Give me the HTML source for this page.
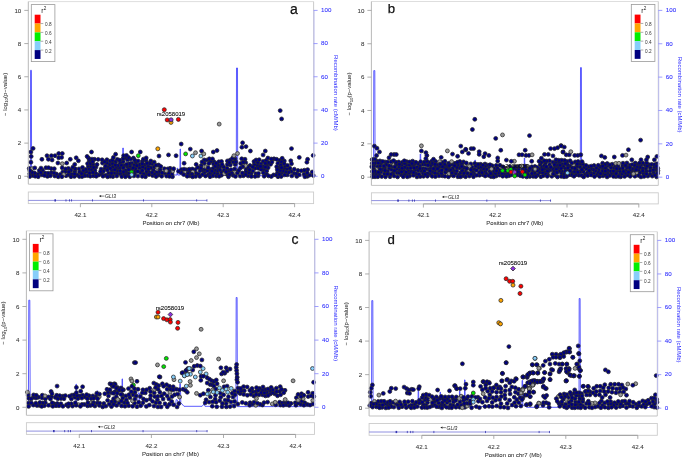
<!DOCTYPE html><html><head><meta charset="utf-8"><style>html,body{margin:0;padding:0;background:#fff;width:685px;height:460px;overflow:hidden}svg{display:block;filter:blur(0.3px)}text{font-family:"Liberation Sans", sans-serif} .t{font-size:6.2px;fill:#333;stroke:#333;stroke-width:0.06px} .tb{font-size:6.2px;fill:#3030ff;stroke:#3030ff;stroke-width:0.08px} .ts{font-size:4.7px;fill:#333} .L{font-size:14px;fill:#111;stroke:#111;stroke-width:0.25px}</style></head><body>
<svg width="685" height="460" viewBox="0 0 685 460">
<polyline points="28.8,176.0 30.4,176.0 30.6,70.3 31.4,70.3 31.6,175.0 60.0,175.5 122.5,175.0 122.8,148.0 123.3,148.0 123.6,175.0 139.3,175.0 139.5,163.0 139.9,163.0 140.1,175.0 177.0,175.0 177.2,168.0 177.5,168.0 177.7,175.0 179.9,175.0 180.1,149.0 180.5,149.0 180.7,175.0 236.3,175.0 236.5,68.0 237.5,68.0 237.7,175.5 313.3,176.0" fill="none" stroke="#4a4aff" stroke-width="0.9"/>
<g stroke="#2a2a2a" stroke-width="0.75">
<circle cx="84.1" cy="172.9" r="1.95" fill="#000080"/>
<circle cx="134.7" cy="173.6" r="1.95" fill="#000080"/>
<circle cx="255.3" cy="168.2" r="1.95" fill="#000080"/>
<circle cx="281.5" cy="173.1" r="1.95" fill="#000080"/>
<circle cx="133.5" cy="158.0" r="1.95" fill="#000080"/>
<circle cx="153.4" cy="170.2" r="1.95" fill="#000080"/>
<circle cx="115.7" cy="161.7" r="1.95" fill="#000080"/>
<circle cx="146.0" cy="160.4" r="1.95" fill="#000080"/>
<circle cx="241.7" cy="158.8" r="1.95" fill="#000080"/>
<circle cx="286.9" cy="169.1" r="1.95" fill="#000080"/>
<circle cx="51.3" cy="168.6" r="1.95" fill="#000080"/>
<circle cx="98.2" cy="159.4" r="1.95" fill="#000080"/>
<circle cx="307.4" cy="176.3" r="1.95" fill="#000080"/>
<circle cx="291.2" cy="171.5" r="1.95" fill="#000080"/>
<circle cx="42.5" cy="170.2" r="1.95" fill="#000080"/>
<circle cx="250.0" cy="165.5" r="1.95" fill="#000080"/>
<circle cx="204.3" cy="172.4" r="1.95" fill="#000080"/>
<circle cx="281.2" cy="176.5" r="1.95" fill="#000080"/>
<circle cx="112.8" cy="166.8" r="1.95" fill="#000080"/>
<circle cx="172.5" cy="176.7" r="1.95" fill="#000080"/>
<circle cx="227.1" cy="168.3" r="1.95" fill="#000080"/>
<circle cx="88.4" cy="166.4" r="1.95" fill="#000080"/>
<circle cx="279.0" cy="167.7" r="1.95" fill="#000080"/>
<circle cx="37.9" cy="174.1" r="1.95" fill="#000080"/>
<circle cx="105.6" cy="175.2" r="1.95" fill="#000080"/>
<circle cx="172.0" cy="174.1" r="1.95" fill="#000080"/>
<circle cx="154.1" cy="167.0" r="1.95" fill="#000080"/>
<circle cx="152.6" cy="175.6" r="1.95" fill="#000080"/>
<circle cx="251.1" cy="173.5" r="1.95" fill="#000080"/>
<circle cx="135.9" cy="162.6" r="1.95" fill="#000080"/>
<circle cx="279.6" cy="160.4" r="1.95" fill="#000080"/>
<circle cx="287.2" cy="174.9" r="1.95" fill="#000080"/>
<circle cx="117.4" cy="159.4" r="1.95" fill="#000080"/>
<circle cx="68.4" cy="168.4" r="1.95" fill="#000080"/>
<circle cx="255.9" cy="173.7" r="1.95" fill="#000080"/>
<circle cx="139.6" cy="167.9" r="1.95" fill="#000080"/>
<circle cx="233.0" cy="175.3" r="1.95" fill="#000080"/>
<circle cx="240.2" cy="176.1" r="1.95" fill="#000080"/>
<circle cx="273.6" cy="174.9" r="1.95" fill="#000080"/>
<circle cx="109.7" cy="164.4" r="1.95" fill="#000080"/>
<circle cx="257.6" cy="165.5" r="1.95" fill="#000080"/>
<circle cx="296.8" cy="176.4" r="1.95" fill="#000080"/>
<circle cx="89.3" cy="160.8" r="1.95" fill="#000080"/>
<circle cx="89.2" cy="169.3" r="1.95" fill="#000080"/>
<circle cx="246.1" cy="169.4" r="1.95" fill="#000080"/>
<circle cx="150.8" cy="167.8" r="1.95" fill="#000080"/>
<circle cx="288.6" cy="172.3" r="1.95" fill="#000080"/>
<circle cx="158.5" cy="175.1" r="1.95" fill="#000080"/>
<circle cx="266.5" cy="174.2" r="1.95" fill="#000080"/>
<circle cx="214.0" cy="161.7" r="1.95" fill="#000080"/>
<circle cx="157.2" cy="167.6" r="1.95" fill="#999999"/>
<circle cx="104.9" cy="168.4" r="1.95" fill="#000080"/>
<circle cx="106.9" cy="159.7" r="1.95" fill="#000080"/>
<circle cx="125.5" cy="157.7" r="1.95" fill="#000080"/>
<circle cx="86.4" cy="171.8" r="1.95" fill="#000080"/>
<circle cx="294.2" cy="173.4" r="1.95" fill="#000080"/>
<circle cx="96.0" cy="167.1" r="1.95" fill="#000080"/>
<circle cx="210.6" cy="161.4" r="1.95" fill="#000080"/>
<circle cx="91.2" cy="166.4" r="1.95" fill="#000080"/>
<circle cx="149.1" cy="172.2" r="1.95" fill="#000080"/>
<circle cx="296.7" cy="173.7" r="1.95" fill="#000080"/>
<circle cx="87.5" cy="175.6" r="1.95" fill="#000080"/>
<circle cx="189.6" cy="171.7" r="1.95" fill="#000080"/>
<circle cx="62.8" cy="171.9" r="1.95" fill="#000080"/>
<circle cx="213.5" cy="164.1" r="1.95" fill="#000080"/>
<circle cx="94.5" cy="159.3" r="1.95" fill="#000080"/>
<circle cx="77.3" cy="175.0" r="1.95" fill="#000080"/>
<circle cx="117.2" cy="173.5" r="1.95" fill="#000080"/>
<circle cx="139.5" cy="164.8" r="1.95" fill="#000080"/>
<circle cx="234.9" cy="171.5" r="1.95" fill="#999999"/>
<circle cx="267.1" cy="165.1" r="1.95" fill="#000080"/>
<circle cx="164.9" cy="173.1" r="1.95" fill="#000080"/>
<circle cx="47.5" cy="176.4" r="1.95" fill="#000080"/>
<circle cx="206.9" cy="160.1" r="1.95" fill="#000080"/>
<circle cx="208.1" cy="174.8" r="1.95" fill="#000080"/>
<circle cx="108.7" cy="173.1" r="1.95" fill="#000080"/>
<circle cx="204.3" cy="163.3" r="1.95" fill="#000080"/>
<circle cx="146.2" cy="174.0" r="1.95" fill="#000080"/>
<circle cx="144.6" cy="164.8" r="1.95" fill="#000080"/>
<circle cx="186.8" cy="169.8" r="1.95" fill="#000080"/>
<circle cx="135.0" cy="171.0" r="1.95" fill="#000080"/>
<circle cx="233.2" cy="162.1" r="1.95" fill="#000080"/>
<circle cx="202.7" cy="170.0" r="1.95" fill="#000080"/>
<circle cx="87.6" cy="163.6" r="1.95" fill="#000080"/>
<circle cx="274.0" cy="158.8" r="1.95" fill="#000080"/>
<circle cx="277.6" cy="172.4" r="1.95" fill="#000080"/>
<circle cx="228.9" cy="171.0" r="1.95" fill="#000080"/>
<circle cx="41.9" cy="174.9" r="1.95" fill="#000080"/>
<circle cx="184.7" cy="172.2" r="1.95" fill="#999999"/>
<circle cx="123.2" cy="161.6" r="1.95" fill="#000080"/>
<circle cx="202.4" cy="174.6" r="1.95" fill="#000080"/>
<circle cx="248.2" cy="175.9" r="1.95" fill="#000080"/>
<circle cx="189.9" cy="175.9" r="1.95" fill="#000080"/>
<circle cx="247.7" cy="167.1" r="1.95" fill="#000080"/>
<circle cx="282.2" cy="158.3" r="1.95" fill="#000080"/>
<circle cx="243.4" cy="175.8" r="1.95" fill="#000080"/>
<circle cx="38.2" cy="176.7" r="1.95" fill="#000080"/>
<circle cx="126.5" cy="172.8" r="1.95" fill="#000080"/>
<circle cx="218.9" cy="161.8" r="1.95" fill="#000080"/>
<circle cx="221.4" cy="172.4" r="1.95" fill="#000080"/>
<circle cx="220.3" cy="166.3" r="1.95" fill="#000080"/>
<circle cx="32.8" cy="175.5" r="1.95" fill="#000080"/>
<circle cx="98.8" cy="175.0" r="1.95" fill="#000080"/>
<circle cx="270.6" cy="164.3" r="1.95" fill="#000080"/>
<circle cx="263.7" cy="169.3" r="1.95" fill="#000080"/>
<circle cx="150.8" cy="161.0" r="1.95" fill="#000080"/>
<circle cx="79.0" cy="168.9" r="1.95" fill="#000080"/>
<circle cx="60.4" cy="174.4" r="1.95" fill="#000080"/>
<circle cx="130.7" cy="159.1" r="1.95" fill="#000080"/>
<circle cx="124.5" cy="165.6" r="1.95" fill="#000080"/>
<circle cx="264.2" cy="176.2" r="1.95" fill="#000080"/>
<circle cx="172.7" cy="171.1" r="1.95" fill="#999999"/>
<circle cx="131.2" cy="169.4" r="1.95" fill="#000080"/>
<circle cx="29.7" cy="173.8" r="1.95" fill="#000080"/>
<circle cx="135.6" cy="168.6" r="1.95" fill="#000080"/>
<circle cx="164.5" cy="168.8" r="1.95" fill="#000080"/>
<circle cx="181.6" cy="169.6" r="1.95" fill="#000080"/>
<circle cx="258.0" cy="175.9" r="1.95" fill="#000080"/>
<circle cx="160.2" cy="169.8" r="1.95" fill="#000080"/>
<circle cx="294.3" cy="169.2" r="1.95" fill="#000080"/>
<circle cx="205.2" cy="169.4" r="1.95" fill="#000080"/>
<circle cx="51.3" cy="172.7" r="1.95" fill="#000080"/>
<circle cx="101.7" cy="174.0" r="1.95" fill="#000080"/>
<circle cx="237.6" cy="172.9" r="1.95" fill="#000080"/>
<circle cx="284.0" cy="168.5" r="1.95" fill="#000080"/>
<circle cx="70.9" cy="170.3" r="1.95" fill="#000080"/>
<circle cx="263.1" cy="166.6" r="1.95" fill="#000080"/>
<circle cx="117.4" cy="170.4" r="1.95" fill="#000080"/>
<circle cx="114.2" cy="173.1" r="1.95" fill="#000080"/>
<circle cx="146.6" cy="171.3" r="1.95" fill="#000080"/>
<circle cx="124.2" cy="174.4" r="1.95" fill="#000080"/>
<circle cx="268.5" cy="162.5" r="1.95" fill="#000080"/>
<circle cx="195.1" cy="169.7" r="1.95" fill="#000080"/>
<circle cx="29.2" cy="168.4" r="1.95" fill="#000080"/>
<circle cx="120.5" cy="173.7" r="1.95" fill="#000080"/>
<circle cx="112.9" cy="176.6" r="1.95" fill="#000080"/>
<circle cx="197.6" cy="167.4" r="1.95" fill="#000080"/>
<circle cx="200.0" cy="170.8" r="1.95" fill="#000080"/>
<circle cx="145.4" cy="168.2" r="1.95" fill="#000080"/>
<circle cx="95.8" cy="173.5" r="1.95" fill="#000080"/>
<circle cx="161.7" cy="176.2" r="1.95" fill="#000080"/>
<circle cx="102.5" cy="163.1" r="1.95" fill="#000080"/>
<circle cx="298.0" cy="170.5" r="1.95" fill="#000080"/>
<circle cx="112.0" cy="170.2" r="1.95" fill="#000080"/>
<circle cx="166.5" cy="176.1" r="1.95" fill="#000080"/>
<circle cx="266.7" cy="170.9" r="1.95" fill="#000080"/>
<circle cx="307.6" cy="169.6" r="1.95" fill="#000080"/>
<circle cx="248.7" cy="172.4" r="1.95" fill="#000080"/>
<circle cx="116.5" cy="167.8" r="1.95" fill="#000080"/>
<circle cx="50.4" cy="175.8" r="1.95" fill="#000080"/>
<circle cx="192.3" cy="169.0" r="1.95" fill="#000080"/>
<circle cx="263.3" cy="172.8" r="1.95" fill="#000080"/>
<circle cx="152.0" cy="163.9" r="1.95" fill="#000080"/>
<circle cx="66.1" cy="175.7" r="1.95" fill="#000080"/>
<circle cx="74.9" cy="171.4" r="1.95" fill="#000080"/>
<circle cx="82.5" cy="167.4" r="1.95" fill="#000080"/>
<circle cx="35.2" cy="176.2" r="1.95" fill="#000080"/>
<circle cx="245.9" cy="172.0" r="1.95" fill="#000080"/>
<circle cx="231.5" cy="173.1" r="1.95" fill="#000080"/>
<circle cx="131.8" cy="163.1" r="1.95" fill="#000080"/>
<circle cx="301.4" cy="170.8" r="1.95" fill="#000080"/>
<circle cx="285.1" cy="165.9" r="1.95" fill="#000080"/>
<circle cx="149.0" cy="174.6" r="1.95" fill="#000080"/>
<circle cx="133.9" cy="175.9" r="1.95" fill="#000080"/>
<circle cx="119.7" cy="167.9" r="1.95" fill="#000080"/>
<circle cx="210.4" cy="173.3" r="1.95" fill="#000080"/>
<circle cx="235.0" cy="158.9" r="1.95" fill="#000080"/>
<circle cx="170.1" cy="168.3" r="1.95" fill="#000080"/>
<circle cx="240.7" cy="163.4" r="1.95" fill="#000080"/>
<circle cx="216.2" cy="176.1" r="1.95" fill="#000080"/>
<circle cx="48.1" cy="173.2" r="1.95" fill="#000080"/>
<circle cx="289.9" cy="168.2" r="1.95" fill="#000080"/>
<circle cx="107.9" cy="167.3" r="1.95" fill="#000080"/>
<circle cx="188.0" cy="173.8" r="1.95" fill="#000080"/>
<circle cx="235.2" cy="164.5" r="1.95" fill="#000080"/>
<circle cx="196.2" cy="173.3" r="1.95" fill="#000080"/>
<circle cx="94.9" cy="170.3" r="1.95" fill="#000080"/>
<circle cx="226.9" cy="174.3" r="1.95" fill="#000080"/>
<circle cx="65.4" cy="171.5" r="1.95" fill="#000080"/>
<circle cx="123.1" cy="158.5" r="1.95" fill="#000080"/>
<circle cx="154.2" cy="162.1" r="1.95" fill="#000080"/>
<circle cx="140.7" cy="172.5" r="1.95" fill="#000080"/>
<circle cx="234.6" cy="168.9" r="1.95" fill="#000080"/>
<circle cx="183.7" cy="174.6" r="1.95" fill="#000080"/>
<circle cx="93.0" cy="164.3" r="1.95" fill="#000080"/>
<circle cx="217.8" cy="167.8" r="1.95" fill="#000080"/>
<circle cx="245.7" cy="162.7" r="1.95" fill="#000080"/>
<circle cx="152.2" cy="172.7" r="1.95" fill="#000080"/>
<circle cx="217.5" cy="173.7" r="1.95" fill="#000080"/>
<circle cx="309.5" cy="175.1" r="1.95" fill="#000080"/>
<circle cx="112.4" cy="163.4" r="1.95" fill="#000080"/>
<circle cx="278.0" cy="176.7" r="1.95" fill="#000080"/>
<circle cx="181.1" cy="172.5" r="1.95" fill="#000080"/>
<circle cx="201.2" cy="165.6" r="1.95" fill="#000080"/>
<circle cx="230.3" cy="160.0" r="1.95" fill="#000080"/>
<circle cx="252.9" cy="170.9" r="1.95" fill="#000080"/>
<circle cx="142.7" cy="167.0" r="1.95" fill="#000080"/>
<circle cx="230.3" cy="165.0" r="1.95" fill="#000080"/>
<circle cx="254.3" cy="164.4" r="1.95" fill="#000080"/>
<circle cx="217.5" cy="170.8" r="1.95" fill="#000080"/>
<circle cx="291.8" cy="175.9" r="1.95" fill="#000080"/>
<circle cx="257.8" cy="162.4" r="1.95" fill="#000080"/>
<circle cx="158.6" cy="165.0" r="1.95" fill="#000080"/>
<circle cx="205.5" cy="176.0" r="1.95" fill="#000080"/>
<circle cx="68.7" cy="174.8" r="1.95" fill="#000080"/>
<circle cx="245.5" cy="165.7" r="1.95" fill="#999999"/>
<circle cx="120.1" cy="162.7" r="1.95" fill="#000080"/>
<circle cx="304.2" cy="174.2" r="1.95" fill="#000080"/>
<circle cx="54.8" cy="176.0" r="1.95" fill="#000080"/>
<circle cx="235.5" cy="176.4" r="1.95" fill="#000080"/>
<circle cx="227.4" cy="160.9" r="1.95" fill="#000080"/>
<circle cx="127.7" cy="166.7" r="1.95" fill="#000080"/>
<circle cx="227.4" cy="164.4" r="1.95" fill="#000080"/>
<circle cx="65.6" cy="168.9" r="1.95" fill="#000080"/>
<circle cx="148.2" cy="166.4" r="1.95" fill="#000080"/>
<circle cx="130.1" cy="166.0" r="1.95" fill="#000080"/>
<circle cx="90.3" cy="176.2" r="1.95" fill="#000080"/>
<circle cx="137.7" cy="171.4" r="1.95" fill="#000080"/>
<circle cx="125.6" cy="170.5" r="1.95" fill="#000080"/>
<circle cx="263.2" cy="161.4" r="1.95" fill="#000080"/>
<circle cx="284.3" cy="161.0" r="1.95" fill="#000080"/>
<circle cx="142.3" cy="161.4" r="1.95" fill="#000080"/>
<circle cx="272.0" cy="162.0" r="1.95" fill="#000080"/>
<circle cx="223.7" cy="166.9" r="1.95" fill="#000080"/>
<circle cx="159.0" cy="172.2" r="1.95" fill="#000080"/>
<circle cx="258.4" cy="168.3" r="1.95" fill="#000080"/>
<circle cx="143.4" cy="159.1" r="1.95" fill="#000080"/>
<circle cx="198.5" cy="174.2" r="1.95" fill="#000080"/>
<circle cx="39.3" cy="170.5" r="1.95" fill="#000080"/>
<circle cx="312.2" cy="172.0" r="1.95" fill="#000080"/>
<circle cx="285.6" cy="172.0" r="1.95" fill="#000080"/>
<circle cx="32.2" cy="168.6" r="1.95" fill="#999999"/>
<circle cx="214.7" cy="170.2" r="1.95" fill="#000080"/>
<circle cx="214.2" cy="173.0" r="1.95" fill="#000080"/>
<circle cx="266.2" cy="160.4" r="1.95" fill="#000080"/>
<circle cx="313.3" cy="175.5" r="1.95" fill="#000080"/>
<circle cx="102.1" cy="159.8" r="1.95" fill="#000080"/>
<circle cx="162.0" cy="172.8" r="1.95" fill="#000080"/>
<circle cx="209.3" cy="158.8" r="1.95" fill="#000080"/>
<circle cx="169.1" cy="171.1" r="1.95" fill="#000080"/>
<circle cx="79.6" cy="172.0" r="1.95" fill="#000080"/>
<circle cx="142.3" cy="170.5" r="1.95" fill="#000080"/>
<circle cx="235.9" cy="161.9" r="1.95" fill="#000080"/>
<circle cx="208.9" cy="163.5" r="1.95" fill="#000080"/>
<circle cx="71.7" cy="174.3" r="1.95" fill="#000080"/>
<circle cx="276.2" cy="175.0" r="1.95" fill="#000080"/>
<circle cx="129.4" cy="163.7" r="1.95" fill="#000080"/>
<circle cx="212.7" cy="175.8" r="1.95" fill="#000080"/>
<circle cx="143.7" cy="173.9" r="1.95" fill="#000080"/>
<circle cx="92.0" cy="159.1" r="1.95" fill="#000080"/>
<circle cx="116.8" cy="176.0" r="1.95" fill="#000080"/>
<circle cx="204.2" cy="159.9" r="1.95" fill="#000080"/>
<circle cx="221.5" cy="161.5" r="1.95" fill="#000080"/>
<circle cx="134.2" cy="165.1" r="1.95" fill="#000080"/>
<circle cx="85.7" cy="169.4" r="1.95" fill="#000080"/>
<circle cx="242.4" cy="173.0" r="1.95" fill="#000080"/>
<circle cx="101.1" cy="169.1" r="1.95" fill="#000080"/>
<circle cx="276.7" cy="166.7" r="1.95" fill="#000080"/>
<circle cx="228.5" cy="176.8" r="1.95" fill="#000080"/>
<circle cx="224.1" cy="170.2" r="1.95" fill="#000080"/>
<circle cx="74.4" cy="176.4" r="1.95" fill="#000080"/>
<circle cx="178.6" cy="171.2" r="1.95" fill="#000080"/>
<circle cx="212.9" cy="168.5" r="1.95" fill="#000080"/>
<circle cx="156.4" cy="172.4" r="1.95" fill="#000080"/>
<circle cx="54.3" cy="168.7" r="1.95" fill="#000080"/>
<circle cx="137.9" cy="176.1" r="1.95" fill="#000080"/>
<circle cx="134.8" cy="160.2" r="1.95" fill="#000080"/>
<circle cx="110.3" cy="176.2" r="1.95" fill="#000080"/>
<circle cx="107.0" cy="163.0" r="1.95" fill="#000080"/>
<circle cx="34.6" cy="173.0" r="1.95" fill="#000080"/>
<circle cx="281.6" cy="162.0" r="1.95" fill="#000080"/>
<circle cx="231.1" cy="169.7" r="1.95" fill="#000080"/>
<circle cx="107.4" cy="170.0" r="1.95" fill="#000080"/>
<circle cx="242.6" cy="166.7" r="1.95" fill="#000080"/>
<circle cx="138.1" cy="161.0" r="1.95" fill="#000080"/>
<circle cx="232.6" cy="158.1" r="1.95" fill="#000080"/>
<circle cx="210.0" cy="169.6" r="1.95" fill="#000080"/>
<circle cx="45.0" cy="173.0" r="1.95" fill="#000080"/>
<circle cx="261.0" cy="164.0" r="1.95" fill="#000080"/>
<circle cx="156.0" cy="165.1" r="1.95" fill="#000080"/>
<circle cx="93.5" cy="175.9" r="1.95" fill="#000080"/>
<circle cx="207.4" cy="170.9" r="1.95" fill="#000080"/>
<circle cx="114.8" cy="169.8" r="1.95" fill="#000080"/>
<circle cx="277.9" cy="163.2" r="1.95" fill="#000080"/>
<circle cx="271.3" cy="176.5" r="1.95" fill="#000080"/>
<circle cx="91.9" cy="169.7" r="1.95" fill="#000080"/>
<circle cx="32.0" cy="172.4" r="1.95" fill="#000080"/>
<circle cx="254.0" cy="161.5" r="1.95" fill="#000080"/>
<circle cx="192.8" cy="172.0" r="1.95" fill="#999999"/>
<circle cx="127.5" cy="159.8" r="1.95" fill="#000080"/>
<circle cx="63.7" cy="174.5" r="1.95" fill="#999999"/>
<circle cx="283.0" cy="171.0" r="1.95" fill="#000080"/>
<circle cx="71.0" cy="176.7" r="1.95" fill="#000080"/>
<circle cx="148.4" cy="169.1" r="1.95" fill="#000080"/>
<circle cx="119.7" cy="160.2" r="1.95" fill="#000080"/>
<circle cx="84.7" cy="175.7" r="1.95" fill="#000080"/>
<circle cx="146.2" cy="157.9" r="1.95" fill="#000080"/>
<circle cx="205.8" cy="166.8" r="1.95" fill="#999999"/>
<circle cx="56.5" cy="174.0" r="1.95" fill="#000080"/>
<circle cx="62.2" cy="167.8" r="1.95" fill="#000080"/>
<circle cx="44.5" cy="175.5" r="1.95" fill="#000080"/>
<circle cx="258.5" cy="173.4" r="1.95" fill="#000080"/>
<circle cx="222.1" cy="164.4" r="1.95" fill="#000080"/>
<circle cx="217.8" cy="165.1" r="1.95" fill="#000080"/>
<circle cx="238.8" cy="170.4" r="1.95" fill="#000080"/>
<circle cx="261.2" cy="169.4" r="1.95" fill="#000080"/>
<circle cx="127.6" cy="175.4" r="1.95" fill="#000080"/>
<circle cx="201.0" cy="168.1" r="1.95" fill="#000080"/>
<circle cx="256.1" cy="160.0" r="1.95" fill="#000080"/>
<circle cx="45.9" cy="167.7" r="1.95" fill="#000080"/>
<circle cx="284.7" cy="174.9" r="1.95" fill="#000080"/>
<circle cx="271.3" cy="159.0" r="1.95" fill="#000080"/>
<circle cx="89.6" cy="173.0" r="1.95" fill="#000080"/>
<circle cx="212.5" cy="158.9" r="1.95" fill="#000080"/>
<circle cx="268.1" cy="167.7" r="1.95" fill="#000080"/>
<circle cx="202.0" cy="162.0" r="1.95" fill="#000080"/>
<circle cx="199.8" cy="176.4" r="1.95" fill="#000080"/>
<circle cx="299.2" cy="174.8" r="1.95" fill="#000080"/>
<circle cx="145.5" cy="176.7" r="1.95" fill="#000080"/>
<circle cx="110.2" cy="161.1" r="1.95" fill="#000080"/>
<circle cx="168.6" cy="173.5" r="1.95" fill="#000080"/>
<circle cx="245.0" cy="159.2" r="1.95" fill="#000080"/>
<circle cx="268.6" cy="175.9" r="1.95" fill="#000080"/>
<circle cx="255.1" cy="176.4" r="1.95" fill="#000080"/>
<circle cx="192.0" cy="174.3" r="1.95" fill="#000080"/>
<circle cx="97.0" cy="164.5" r="1.95" fill="#000080"/>
<circle cx="121.7" cy="176.6" r="1.95" fill="#000080"/>
<circle cx="126.7" cy="164.3" r="1.95" fill="#000080"/>
<circle cx="252.7" cy="167.0" r="1.95" fill="#000080"/>
<circle cx="117.9" cy="165.5" r="1.95" fill="#000080"/>
<circle cx="29.7" cy="176.6" r="1.95" fill="#000080"/>
<circle cx="304.4" cy="170.2" r="1.95" fill="#000080"/>
<circle cx="267.9" cy="158.0" r="1.95" fill="#000080"/>
<circle cx="75.2" cy="168.8" r="1.95" fill="#000080"/>
<circle cx="243.3" cy="162.2" r="1.95" fill="#000080"/>
<circle cx="154.9" cy="174.4" r="1.95" fill="#000080"/>
<circle cx="111.5" cy="173.2" r="1.95" fill="#000080"/>
<circle cx="160.8" cy="166.5" r="1.95" fill="#000080"/>
<circle cx="103.4" cy="171.2" r="1.95" fill="#000080"/>
<circle cx="83.2" cy="170.6" r="1.95" fill="#000080"/>
<circle cx="74.6" cy="173.9" r="1.95" fill="#000080"/>
<circle cx="105.5" cy="166.0" r="1.95" fill="#000080"/>
<circle cx="215.2" cy="166.2" r="1.95" fill="#000080"/>
<circle cx="34.8" cy="167.9" r="1.95" fill="#000080"/>
<circle cx="121.5" cy="165.4" r="1.95" fill="#000080"/>
<circle cx="110.3" cy="168.3" r="1.95" fill="#000080"/>
<circle cx="284.1" cy="163.6" r="1.95" fill="#000080"/>
<circle cx="221.5" cy="175.2" r="1.95" fill="#000080"/>
<circle cx="136.9" cy="165.7" r="1.95" fill="#000080"/>
<circle cx="224.3" cy="173.6" r="1.95" fill="#999999"/>
<circle cx="276.6" cy="159.3" r="1.95" fill="#000080"/>
<circle cx="280.9" cy="165.3" r="1.95" fill="#000080"/>
<circle cx="167.7" cy="168.9" r="1.95" fill="#000080"/>
<circle cx="307.2" cy="172.7" r="1.95" fill="#000080"/>
<circle cx="112.5" cy="160.2" r="1.95" fill="#000080"/>
<circle cx="280.2" cy="170.5" r="1.95" fill="#000080"/>
<circle cx="142.3" cy="176.4" r="1.95" fill="#000080"/>
<circle cx="220.0" cy="169.8" r="1.95" fill="#000080"/>
<circle cx="187.2" cy="176.3" r="1.95" fill="#000080"/>
<circle cx="149.6" cy="163.3" r="1.95" fill="#000080"/>
<circle cx="216.2" cy="163.2" r="1.95" fill="#000080"/>
<circle cx="68.8" cy="171.9" r="1.95" fill="#000080"/>
<circle cx="107.6" cy="176.8" r="1.95" fill="#000080"/>
<circle cx="128.6" cy="169.6" r="1.95" fill="#000080"/>
<circle cx="123.3" cy="167.8" r="1.95" fill="#000080"/>
<circle cx="58.2" cy="176.8" r="1.95" fill="#000080"/>
<circle cx="260.6" cy="166.4" r="1.95" fill="#000080"/>
<circle cx="40.8" cy="172.6" r="1.95" fill="#000080"/>
<circle cx="54.0" cy="172.9" r="1.95" fill="#000080"/>
<circle cx="265.3" cy="163.4" r="1.95" fill="#000080"/>
<circle cx="277.3" cy="169.6" r="1.95" fill="#000080"/>
<circle cx="103.0" cy="176.2" r="1.95" fill="#000080"/>
<circle cx="287.5" cy="165.4" r="1.95" fill="#000080"/>
<circle cx="281.5" cy="167.7" r="1.95" fill="#000080"/>
<circle cx="29.8" cy="170.7" r="1.95" fill="#000080"/>
<circle cx="115.3" cy="165.0" r="1.95" fill="#000080"/>
<circle cx="93.6" cy="167.5" r="1.95" fill="#000080"/>
<circle cx="219.2" cy="176.3" r="1.95" fill="#000080"/>
<circle cx="92.9" cy="172.4" r="1.95" fill="#000080"/>
<circle cx="249.6" cy="169.8" r="1.95" fill="#000080"/>
<circle cx="210.0" cy="176.7" r="1.95" fill="#000080"/>
<circle cx="208.2" cy="167.8" r="1.95" fill="#000080"/>
<circle cx="169.5" cy="176.4" r="1.95" fill="#000080"/>
<circle cx="166.2" cy="170.9" r="1.95" fill="#999999"/>
<circle cx="96.3" cy="176.3" r="1.95" fill="#000080"/>
<circle cx="251.4" cy="176.4" r="1.95" fill="#000080"/>
<circle cx="48.5" cy="167.7" r="1.95" fill="#000080"/>
<circle cx="240.5" cy="167.9" r="1.95" fill="#000080"/>
<circle cx="195.6" cy="176.4" r="1.95" fill="#000080"/>
<circle cx="184.1" cy="169.1" r="1.95" fill="#000080"/>
<circle cx="90.3" cy="163.4" r="1.95" fill="#000080"/>
<circle cx="104.6" cy="161.8" r="1.95" fill="#000080"/>
<circle cx="100.5" cy="171.6" r="1.95" fill="#000080"/>
<circle cx="79.4" cy="176.5" r="1.95" fill="#000080"/>
<circle cx="125.4" cy="176.7" r="1.95" fill="#000080"/>
<circle cx="72.8" cy="167.2" r="1.95" fill="#000080"/>
<circle cx="120.2" cy="170.9" r="1.95" fill="#000080"/>
<circle cx="128.6" cy="157.5" r="1.95" fill="#000080"/>
<circle cx="129.4" cy="173.5" r="1.95" fill="#000080"/>
<circle cx="226.1" cy="171.8" r="1.95" fill="#000080"/>
<circle cx="265.5" cy="167.1" r="1.95" fill="#000080"/>
<circle cx="82.1" cy="176.6" r="1.95" fill="#000080"/>
<circle cx="259.2" cy="159.7" r="1.95" fill="#000080"/>
<circle cx="245.7" cy="174.6" r="1.95" fill="#000080"/>
<circle cx="156.1" cy="176.6" r="1.95" fill="#000080"/>
<circle cx="88.7" cy="158.3" r="1.95" fill="#000080"/>
<circle cx="229.2" cy="162.5" r="1.95" fill="#000080"/>
<circle cx="61.9" cy="176.7" r="1.95" fill="#000080"/>
<circle cx="192.6" cy="176.8" r="1.95" fill="#000080"/>
<circle cx="229.4" cy="174.5" r="1.95" fill="#000080"/>
<circle cx="92.6" cy="161.6" r="1.95" fill="#000080"/>
<circle cx="173.7" cy="168.7" r="1.95" fill="#000080"/>
<circle cx="133.1" cy="167.9" r="1.95" fill="#000080"/>
<circle cx="147.0" cy="163.3" r="1.95" fill="#000080"/>
<circle cx="129.7" cy="176.7" r="1.95" fill="#000080"/>
<circle cx="123.5" cy="171.9" r="1.95" fill="#000080"/>
<circle cx="189.4" cy="169.2" r="1.95" fill="#000080"/>
<circle cx="41.0" cy="168.1" r="1.95" fill="#000080"/>
<circle cx="212.0" cy="171.2" r="1.95" fill="#000080"/>
<circle cx="304.9" cy="176.8" r="1.95" fill="#000080"/>
<circle cx="142.2" cy="163.8" r="1.95" fill="#000080"/>
<circle cx="81.6" cy="173.5" r="1.95" fill="#000080"/>
<circle cx="279.3" cy="174.4" r="1.95" fill="#000080"/>
<circle cx="164.3" cy="109.7" r="2.0" fill="#ff0000"/>
<circle cx="167.2" cy="119.9" r="2.0" fill="#ff0000"/>
<circle cx="178.4" cy="119.4" r="2.0" fill="#ff0000"/>
<circle cx="171.0" cy="122.4" r="2.0" fill="#ffa500"/>
<circle cx="171.1" cy="119.8" r="2.0" fill="#8c32dc"/>
<circle cx="219.2" cy="124.1" r="1.95" fill="#999999"/>
<circle cx="280.2" cy="110.6" r="1.95" fill="#000080"/>
<circle cx="281.6" cy="118.9" r="1.95" fill="#000080"/>
<circle cx="33.1" cy="148.4" r="1.95" fill="#000080"/>
<circle cx="30.9" cy="152.0" r="1.95" fill="#000080"/>
<circle cx="31.2" cy="156.4" r="1.95" fill="#000080"/>
<circle cx="30.9" cy="162.2" r="1.95" fill="#000080"/>
<circle cx="41.9" cy="159.3" r="1.95" fill="#000080"/>
<circle cx="47.0" cy="155.7" r="1.95" fill="#000080"/>
<circle cx="51.4" cy="155.7" r="1.95" fill="#000080"/>
<circle cx="55.0" cy="155.7" r="1.95" fill="#000080"/>
<circle cx="48.4" cy="159.3" r="1.95" fill="#000080"/>
<circle cx="52.1" cy="160.0" r="1.95" fill="#000080"/>
<circle cx="58.7" cy="153.5" r="1.95" fill="#000080"/>
<circle cx="62.3" cy="153.5" r="1.95" fill="#000080"/>
<circle cx="58.7" cy="157.8" r="1.95" fill="#000080"/>
<circle cx="61.6" cy="157.4" r="1.95" fill="#000080"/>
<circle cx="57.9" cy="163.0" r="1.95" fill="#000080"/>
<circle cx="62.3" cy="163.7" r="1.95" fill="#999999"/>
<circle cx="66.7" cy="163.0" r="1.95" fill="#000080"/>
<circle cx="70.3" cy="159.3" r="1.95" fill="#000080"/>
<circle cx="76.2" cy="157.8" r="1.95" fill="#000080"/>
<circle cx="78.4" cy="160.8" r="1.95" fill="#000080"/>
<circle cx="74.7" cy="164.4" r="1.95" fill="#000080"/>
<circle cx="91.5" cy="152.0" r="1.95" fill="#000080"/>
<circle cx="87.1" cy="156.4" r="1.95" fill="#000080"/>
<circle cx="115.6" cy="154.2" r="1.95" fill="#000080"/>
<circle cx="113.4" cy="157.4" r="1.95" fill="#000080"/>
<circle cx="123.6" cy="155.7" r="1.95" fill="#000080"/>
<circle cx="157.8" cy="148.8" r="2.0" fill="#ffa500"/>
<circle cx="181.2" cy="144.0" r="1.95" fill="#000080"/>
<circle cx="190.3" cy="149.1" r="1.95" fill="#000080"/>
<circle cx="185.6" cy="153.9" r="1.95" fill="#00e600"/>
<circle cx="195.5" cy="152.7" r="1.95" fill="#999999"/>
<circle cx="192.4" cy="156.0" r="1.95" fill="#87cefa"/>
<circle cx="201.6" cy="151.0" r="1.95" fill="#000080"/>
<circle cx="200.9" cy="156.0" r="1.95" fill="#87cefa"/>
<circle cx="203.8" cy="153.9" r="1.95" fill="#999999"/>
<circle cx="213.3" cy="152.0" r="1.95" fill="#000080"/>
<circle cx="217.0" cy="150.5" r="1.95" fill="#000080"/>
<circle cx="168.5" cy="154.9" r="1.95" fill="#000080"/>
<circle cx="176.1" cy="155.7" r="1.95" fill="#000080"/>
<circle cx="159.0" cy="156.0" r="1.95" fill="#000080"/>
<circle cx="196.2" cy="164.4" r="1.95" fill="#000080"/>
<circle cx="184.1" cy="163.2" r="1.95" fill="#000080"/>
<circle cx="138.3" cy="155.7" r="1.95" fill="#00e600"/>
<circle cx="131.6" cy="172.0" r="1.95" fill="#00e600"/>
<circle cx="131.7" cy="174.7" r="1.95" fill="#87cefa"/>
<circle cx="131.6" cy="152.0" r="1.95" fill="#000080"/>
<circle cx="140.3" cy="152.0" r="1.95" fill="#000080"/>
<circle cx="126.5" cy="155.4" r="1.95" fill="#000080"/>
<circle cx="242.6" cy="142.8" r="1.95" fill="#000080"/>
<circle cx="241.9" cy="147.2" r="1.95" fill="#000080"/>
<circle cx="246.0" cy="146.6" r="1.95" fill="#000080"/>
<circle cx="250.4" cy="151.0" r="1.95" fill="#000080"/>
<circle cx="265.3" cy="151.0" r="1.95" fill="#000080"/>
<circle cx="291.5" cy="148.6" r="1.95" fill="#000080"/>
<circle cx="299.3" cy="157.4" r="1.95" fill="#000080"/>
<circle cx="313.1" cy="155.4" r="1.95" fill="#000080"/>
<circle cx="307.6" cy="159.3" r="1.95" fill="#000080"/>
<circle cx="306.9" cy="162.2" r="1.95" fill="#000080"/>
<circle cx="290.8" cy="160.8" r="1.95" fill="#000080"/>
<circle cx="291.5" cy="163.7" r="1.95" fill="#000080"/>
<circle cx="263.1" cy="154.9" r="1.95" fill="#000080"/>
<circle cx="233.9" cy="155.7" r="1.95" fill="#999999"/>
<circle cx="237.5" cy="153.5" r="1.95" fill="#999999"/>
</g>
<text x="171" y="116.1" text-anchor="middle" style="font-size:6px;fill:#111;stroke:#111;stroke-width:0.1px">rs2058019</text>
<line x1="28.3" y1="1.6" x2="313.6" y2="1.6" stroke="#dedede" stroke-width="1"/>
<line x1="28.3" y1="1.6" x2="28.3" y2="184.2" stroke="#b0b0b0" stroke-width="0.9"/>
<line x1="28.3" y1="184.2" x2="313.6" y2="184.2" stroke="#bcbcbc" stroke-width="0.9"/>
<line x1="313.6" y1="1.6" x2="313.6" y2="184.2" stroke="#c4c4c4" stroke-width="0.9"/>
<line x1="24.3" y1="176.3" x2="28.3" y2="176.3" stroke="#999" stroke-width="0.8"/>
<text x="21.3" y="178.5" text-anchor="end" class="t">0</text>
<line x1="24.3" y1="143.12" x2="28.3" y2="143.12" stroke="#999" stroke-width="0.8"/>
<text x="21.3" y="145.32" text-anchor="end" class="t">2</text>
<line x1="24.3" y1="109.94" x2="28.3" y2="109.94" stroke="#999" stroke-width="0.8"/>
<text x="21.3" y="112.14" text-anchor="end" class="t">4</text>
<line x1="24.3" y1="76.76" x2="28.3" y2="76.76" stroke="#999" stroke-width="0.8"/>
<text x="21.3" y="78.96" text-anchor="end" class="t">6</text>
<line x1="24.3" y1="43.58" x2="28.3" y2="43.58" stroke="#999" stroke-width="0.8"/>
<text x="21.3" y="45.78" text-anchor="end" class="t">8</text>
<line x1="24.3" y1="10.4" x2="28.3" y2="10.4" stroke="#999" stroke-width="0.8"/>
<text x="21.3" y="12.6" text-anchor="end" class="t">10</text>
<line x1="314" y1="176.3" x2="314" y2="10.4" stroke="#bcbcf0" stroke-width="1"/>
<line x1="313.6" y1="176.3" x2="317.6" y2="176.3" stroke="#88f" stroke-width="0.8"/>
<text x="321.1" y="178.1" class="tb">0</text>
<line x1="313.6" y1="143.12" x2="317.6" y2="143.12" stroke="#88f" stroke-width="0.8"/>
<text x="321.1" y="144.92" class="tb">20</text>
<line x1="313.6" y1="109.94" x2="317.6" y2="109.94" stroke="#88f" stroke-width="0.8"/>
<text x="321.1" y="111.74" class="tb">40</text>
<line x1="313.6" y1="76.76" x2="317.6" y2="76.76" stroke="#88f" stroke-width="0.8"/>
<text x="321.1" y="78.56" class="tb">60</text>
<line x1="313.6" y1="43.58" x2="317.6" y2="43.58" stroke="#88f" stroke-width="0.8"/>
<text x="321.1" y="45.38" class="tb">80</text>
<line x1="313.6" y1="10.4" x2="317.6" y2="10.4" stroke="#88f" stroke-width="0.8"/>
<text x="321.1" y="12.2" class="tb">100</text>
<text transform="translate(7.1,94.4) rotate(-90)" text-anchor="middle" class="t" style="font-size:6.0px">− log<tspan style="font-size:4.3px" dy="1.3">10</tspan><tspan dy="-1.3">(p−value)</tspan></text>
<text transform="translate(334,92.9) rotate(90)" text-anchor="middle" class="tb" style="font-size:6.0px;stroke-width:0">Recombination rate (cM/Mb)</text>
<rect x="28.3" y="192" width="285.3" height="11.6" fill="none" stroke="#ccc" stroke-width="0.9"/>
<line x1="80.4" y1="203.6" x2="294.6" y2="203.6" stroke="#8a8a8a" stroke-width="0.8"/>
<line x1="80.4" y1="203.6" x2="80.4" y2="207.2" stroke="#999" stroke-width="0.8"/>
<text x="80.4" y="216.6" text-anchor="middle" class="t">42.1</text>
<line x1="151.8" y1="203.6" x2="151.8" y2="207.2" stroke="#999" stroke-width="0.8"/>
<text x="151.8" y="216.6" text-anchor="middle" class="t">42.2</text>
<line x1="223.2" y1="203.6" x2="223.2" y2="207.2" stroke="#999" stroke-width="0.8"/>
<text x="223.2" y="216.6" text-anchor="middle" class="t">42.3</text>
<line x1="294.6" y1="203.6" x2="294.6" y2="207.2" stroke="#999" stroke-width="0.8"/>
<text x="294.6" y="216.6" text-anchor="middle" class="t">42.4</text>
<text x="170.95" y="224.6" text-anchor="middle" class="t" style="font-size:6.0px">Position on chr7 (Mb)</text>
<line x1="28.3" y1="200.4" x2="206.92" y2="200.4" stroke="#7575d8" stroke-width="0.8"/>
<rect x="54.4" y="199.3" width="1.6" height="2.2" fill="#3535b0"/>
<rect x="65.58" y="199.3" width="0.8" height="2.2" fill="#3535b0"/>
<rect x="69" y="199.3" width="0.8" height="2.2" fill="#3535b0"/>
<rect x="71.22" y="199.3" width="0.8" height="2.2" fill="#3535b0"/>
<rect x="92" y="199.3" width="0.8" height="2.2" fill="#3535b0"/>
<rect x="143.12" y="199.3" width="0.8" height="2.2" fill="#3535b0"/>
<rect x="196.31" y="199.3" width="0.8" height="2.2" fill="#3535b0"/>
<rect x="206.52" y="199.3" width="0.8" height="2.2" fill="#3535b0"/>
<path d="M98.9,196.1L101.1,195L101.1,197.2Z" fill="#222"/><line x1="100.9" y1="196.1" x2="104.5" y2="196.1" stroke="#333" stroke-width="0.6"/>
<text x="105.1" y="198.15" font-style="italic" textLength="10.9" lengthAdjust="spacingAndGlyphs" style="font-size:5.7px;fill:#222">GLI3</text>
<rect x="31.3" y="4.6" width="23.6" height="57" fill="#fff" stroke="#999" stroke-width="0.8"/>
<rect x="34.7" y="14.7" width="5.8" height="8.85" fill="#ff0000"/>
<rect x="34.7" y="23.55" width="5.8" height="8.85" fill="#ffa500"/>
<rect x="34.7" y="32.4" width="5.8" height="8.85" fill="#00ee00"/>
<rect x="34.7" y="41.25" width="5.8" height="8.85" fill="#87cefa"/>
<rect x="34.7" y="50.1" width="5.8" height="8.85" fill="#000080"/>
<line x1="40.5" y1="23.55" x2="43.3" y2="23.55" stroke="#777" stroke-width="0.6"/>
<text x="45.1" y="26.05" class="ts">0.8</text>
<line x1="40.5" y1="32.4" x2="43.3" y2="32.4" stroke="#777" stroke-width="0.6"/>
<text x="45.1" y="34.9" class="ts">0.6</text>
<line x1="40.5" y1="41.25" x2="43.3" y2="41.25" stroke="#777" stroke-width="0.6"/>
<text x="45.1" y="43.75" class="ts">0.4</text>
<line x1="40.5" y1="50.1" x2="43.3" y2="50.1" stroke="#777" stroke-width="0.6"/>
<text x="45.1" y="52.6" class="ts">0.2</text>
<text x="41.3" y="12.8" style="font-size:7px;fill:#222">r<tspan style="font-size:4.6px" dy="-2.8">2</tspan></text>
<text x="294" y="13.6" text-anchor="middle" class="L" style="font-size:14px">a</text>
<polyline points="371.6,176.5 373.5,176.5 373.8,70.6 374.8,70.6 375.1,176.0 420.0,176.0 420.2,154.0 420.7,154.0 420.9,176.0 474.7,176.0 474.9,160.0 475.3,160.0 475.5,176.0 524.1,176.0 524.3,158.0 524.7,158.0 524.9,176.0 580.3,176.0 580.5,67.6 581.4,67.6 581.6,176.5 658.0,176.5" fill="none" stroke="#4a4aff" stroke-width="0.9"/>
<g stroke="#2a2a2a" stroke-width="0.75">
<circle cx="473.8" cy="173.8" r="1.95" fill="#000080"/>
<circle cx="381.7" cy="176.5" r="1.95" fill="#000080"/>
<circle cx="573.5" cy="165.2" r="1.95" fill="#999999"/>
<circle cx="593.9" cy="173.1" r="1.95" fill="#000080"/>
<circle cx="373.9" cy="165.6" r="1.95" fill="#000080"/>
<circle cx="585.2" cy="174.5" r="1.95" fill="#000080"/>
<circle cx="534.8" cy="173.5" r="1.95" fill="#000080"/>
<circle cx="448.7" cy="168.0" r="1.95" fill="#000080"/>
<circle cx="407.6" cy="168.5" r="1.95" fill="#000080"/>
<circle cx="569.6" cy="166.1" r="1.95" fill="#000080"/>
<circle cx="401.3" cy="174.7" r="1.95" fill="#000080"/>
<circle cx="417.0" cy="176.9" r="1.95" fill="#000080"/>
<circle cx="603.0" cy="175.9" r="1.95" fill="#000080"/>
<circle cx="632.3" cy="171.7" r="1.95" fill="#000080"/>
<circle cx="389.2" cy="168.4" r="1.95" fill="#000080"/>
<circle cx="465.6" cy="176.7" r="1.95" fill="#000080"/>
<circle cx="646.4" cy="171.3" r="1.95" fill="#000080"/>
<circle cx="381.0" cy="172.0" r="1.95" fill="#000080"/>
<circle cx="567.5" cy="164.8" r="1.95" fill="#000080"/>
<circle cx="430.7" cy="174.3" r="1.95" fill="#000080"/>
<circle cx="466.2" cy="171.2" r="1.95" fill="#000080"/>
<circle cx="626.1" cy="170.8" r="1.95" fill="#000080"/>
<circle cx="407.0" cy="174.3" r="1.95" fill="#000080"/>
<circle cx="650.3" cy="174.4" r="1.95" fill="#000080"/>
<circle cx="397.0" cy="172.7" r="1.95" fill="#000080"/>
<circle cx="404.6" cy="174.5" r="1.95" fill="#000080"/>
<circle cx="435.3" cy="166.9" r="1.95" fill="#000080"/>
<circle cx="434.8" cy="170.8" r="1.95" fill="#000080"/>
<circle cx="562.1" cy="163.9" r="1.95" fill="#000080"/>
<circle cx="555.6" cy="175.2" r="1.95" fill="#000080"/>
<circle cx="634.7" cy="171.7" r="1.95" fill="#000080"/>
<circle cx="421.5" cy="170.8" r="1.95" fill="#000080"/>
<circle cx="385.5" cy="176.8" r="1.95" fill="#000080"/>
<circle cx="445.4" cy="172.2" r="1.95" fill="#000080"/>
<circle cx="474.2" cy="169.7" r="1.95" fill="#000080"/>
<circle cx="529.8" cy="176.5" r="1.95" fill="#000080"/>
<circle cx="507.6" cy="173.6" r="1.95" fill="#000080"/>
<circle cx="423.0" cy="164.4" r="1.95" fill="#000080"/>
<circle cx="518.6" cy="169.2" r="1.95" fill="#000080"/>
<circle cx="549.7" cy="164.7" r="1.95" fill="#000080"/>
<circle cx="598.9" cy="169.8" r="1.95" fill="#000080"/>
<circle cx="485.0" cy="164.0" r="1.95" fill="#000080"/>
<circle cx="414.8" cy="170.2" r="1.95" fill="#000080"/>
<circle cx="439.1" cy="170.9" r="1.95" fill="#000080"/>
<circle cx="644.9" cy="164.7" r="1.95" fill="#000080"/>
<circle cx="561.8" cy="171.5" r="1.95" fill="#000080"/>
<circle cx="377.5" cy="166.6" r="1.95" fill="#000080"/>
<circle cx="415.9" cy="173.7" r="1.95" fill="#000080"/>
<circle cx="572.5" cy="172.5" r="1.95" fill="#000080"/>
<circle cx="392.3" cy="166.3" r="1.95" fill="#000080"/>
<circle cx="423.5" cy="176.3" r="1.95" fill="#000080"/>
<circle cx="571.7" cy="175.0" r="1.95" fill="#000080"/>
<circle cx="597.1" cy="174.8" r="1.95" fill="#000080"/>
<circle cx="473.5" cy="176.7" r="1.95" fill="#000080"/>
<circle cx="622.7" cy="166.0" r="1.95" fill="#000080"/>
<circle cx="431.7" cy="161.2" r="1.95" fill="#000080"/>
<circle cx="414.3" cy="164.3" r="1.95" fill="#000080"/>
<circle cx="485.2" cy="171.6" r="1.95" fill="#000080"/>
<circle cx="391.8" cy="169.9" r="1.95" fill="#000080"/>
<circle cx="548.4" cy="174.1" r="1.95" fill="#000080"/>
<circle cx="442.3" cy="175.8" r="1.95" fill="#000080"/>
<circle cx="428.6" cy="169.2" r="1.95" fill="#000080"/>
<circle cx="385.0" cy="161.9" r="1.95" fill="#000080"/>
<circle cx="459.1" cy="174.8" r="1.95" fill="#000080"/>
<circle cx="494.0" cy="168.8" r="1.95" fill="#000080"/>
<circle cx="561.2" cy="173.8" r="1.95" fill="#000080"/>
<circle cx="419.9" cy="166.0" r="1.95" fill="#000080"/>
<circle cx="614.1" cy="168.0" r="1.95" fill="#000080"/>
<circle cx="586.5" cy="168.9" r="1.95" fill="#000080"/>
<circle cx="637.0" cy="172.8" r="1.95" fill="#999999"/>
<circle cx="406.6" cy="161.6" r="1.95" fill="#000080"/>
<circle cx="544.9" cy="172.0" r="1.95" fill="#000080"/>
<circle cx="564.1" cy="174.5" r="1.95" fill="#000080"/>
<circle cx="563.5" cy="166.7" r="1.95" fill="#000080"/>
<circle cx="437.6" cy="173.9" r="1.95" fill="#000080"/>
<circle cx="382.7" cy="169.5" r="1.95" fill="#000080"/>
<circle cx="441.4" cy="173.2" r="1.95" fill="#000080"/>
<circle cx="384.6" cy="173.8" r="1.95" fill="#000080"/>
<circle cx="437.6" cy="164.9" r="1.95" fill="#000080"/>
<circle cx="427.4" cy="173.4" r="1.95" fill="#000080"/>
<circle cx="412.6" cy="166.1" r="1.95" fill="#000080"/>
<circle cx="441.8" cy="170.3" r="1.95" fill="#000080"/>
<circle cx="432.7" cy="171.9" r="1.95" fill="#000080"/>
<circle cx="539.7" cy="172.5" r="1.95" fill="#000080"/>
<circle cx="448.7" cy="163.2" r="1.95" fill="#000080"/>
<circle cx="464.8" cy="165.3" r="1.95" fill="#999999"/>
<circle cx="653.8" cy="172.7" r="1.95" fill="#000080"/>
<circle cx="555.4" cy="167.0" r="1.95" fill="#000080"/>
<circle cx="376.7" cy="161.1" r="1.95" fill="#000080"/>
<circle cx="393.9" cy="164.6" r="1.95" fill="#999999"/>
<circle cx="603.4" cy="173.5" r="1.95" fill="#000080"/>
<circle cx="379.9" cy="160.9" r="1.95" fill="#000080"/>
<circle cx="459.7" cy="168.0" r="1.95" fill="#000080"/>
<circle cx="607.3" cy="165.9" r="1.95" fill="#000080"/>
<circle cx="412.6" cy="161.1" r="1.95" fill="#000080"/>
<circle cx="387.7" cy="171.5" r="1.95" fill="#000080"/>
<circle cx="587.5" cy="172.8" r="1.95" fill="#000080"/>
<circle cx="458.1" cy="165.0" r="1.95" fill="#000080"/>
<circle cx="504.8" cy="168.3" r="1.95" fill="#000080"/>
<circle cx="595.5" cy="170.8" r="1.95" fill="#000080"/>
<circle cx="408.7" cy="171.3" r="1.95" fill="#000080"/>
<circle cx="380.9" cy="163.3" r="1.95" fill="#000080"/>
<circle cx="515.3" cy="169.4" r="1.95" fill="#000080"/>
<circle cx="552.9" cy="162.1" r="1.95" fill="#000080"/>
<circle cx="401.7" cy="165.3" r="1.95" fill="#000080"/>
<circle cx="511.1" cy="174.9" r="1.95" fill="#000080"/>
<circle cx="446.8" cy="166.0" r="1.95" fill="#000080"/>
<circle cx="409.6" cy="173.6" r="1.95" fill="#000080"/>
<circle cx="602.9" cy="168.7" r="1.95" fill="#000080"/>
<circle cx="439.6" cy="167.0" r="1.95" fill="#000080"/>
<circle cx="624.6" cy="176.4" r="1.95" fill="#000080"/>
<circle cx="372.9" cy="174.3" r="1.95" fill="#000080"/>
<circle cx="534.9" cy="166.4" r="1.95" fill="#000080"/>
<circle cx="496.2" cy="176.0" r="1.95" fill="#000080"/>
<circle cx="474.8" cy="163.5" r="1.95" fill="#000080"/>
<circle cx="456.8" cy="167.6" r="1.95" fill="#000080"/>
<circle cx="491.0" cy="176.6" r="1.95" fill="#000080"/>
<circle cx="645.8" cy="168.2" r="1.95" fill="#000080"/>
<circle cx="642.7" cy="168.5" r="1.95" fill="#000080"/>
<circle cx="387.7" cy="161.9" r="1.95" fill="#000080"/>
<circle cx="393.0" cy="173.5" r="1.95" fill="#000080"/>
<circle cx="472.1" cy="167.1" r="1.95" fill="#000080"/>
<circle cx="416.8" cy="167.3" r="1.95" fill="#000080"/>
<circle cx="397.6" cy="176.9" r="1.95" fill="#000080"/>
<circle cx="578.9" cy="175.2" r="1.95" fill="#000080"/>
<circle cx="517.4" cy="174.9" r="1.95" fill="#000080"/>
<circle cx="613.8" cy="173.8" r="1.95" fill="#000080"/>
<circle cx="453.8" cy="170.9" r="1.95" fill="#000080"/>
<circle cx="634.7" cy="168.0" r="1.95" fill="#000080"/>
<circle cx="634.9" cy="176.2" r="1.95" fill="#000080"/>
<circle cx="486.2" cy="173.8" r="1.95" fill="#000080"/>
<circle cx="567.0" cy="161.5" r="1.95" fill="#000080"/>
<circle cx="468.7" cy="170.8" r="1.95" fill="#999999"/>
<circle cx="611.2" cy="173.7" r="1.95" fill="#000080"/>
<circle cx="444.9" cy="161.3" r="1.95" fill="#000080"/>
<circle cx="413.4" cy="175.3" r="1.95" fill="#000080"/>
<circle cx="533.2" cy="176.4" r="1.95" fill="#000080"/>
<circle cx="630.1" cy="174.0" r="1.95" fill="#000080"/>
<circle cx="641.1" cy="164.9" r="1.95" fill="#000080"/>
<circle cx="470.8" cy="163.9" r="1.95" fill="#000080"/>
<circle cx="656.7" cy="176.9" r="1.95" fill="#000080"/>
<circle cx="650.3" cy="167.7" r="1.95" fill="#000080"/>
<circle cx="508.9" cy="175.8" r="1.95" fill="#000080"/>
<circle cx="522.8" cy="168.8" r="1.95" fill="#000080"/>
<circle cx="467.5" cy="173.4" r="1.95" fill="#000080"/>
<circle cx="399.7" cy="170.0" r="1.95" fill="#000080"/>
<circle cx="423.1" cy="173.2" r="1.95" fill="#000080"/>
<circle cx="629.9" cy="165.1" r="1.95" fill="#000080"/>
<circle cx="450.8" cy="175.1" r="1.95" fill="#000080"/>
<circle cx="493.2" cy="174.5" r="1.95" fill="#000080"/>
<circle cx="463.5" cy="161.9" r="1.95" fill="#000080"/>
<circle cx="615.6" cy="166.1" r="1.95" fill="#000080"/>
<circle cx="385.0" cy="168.1" r="1.95" fill="#000080"/>
<circle cx="460.8" cy="172.5" r="1.95" fill="#000080"/>
<circle cx="547.5" cy="168.9" r="1.95" fill="#000080"/>
<circle cx="448.4" cy="176.8" r="1.95" fill="#000080"/>
<circle cx="448.5" cy="170.5" r="1.95" fill="#000080"/>
<circle cx="593.3" cy="169.5" r="1.95" fill="#000080"/>
<circle cx="391.2" cy="161.8" r="1.95" fill="#000080"/>
<circle cx="455.7" cy="173.4" r="1.95" fill="#000080"/>
<circle cx="576.8" cy="169.9" r="1.95" fill="#000080"/>
<circle cx="610.7" cy="171.1" r="1.95" fill="#000080"/>
<circle cx="649.1" cy="164.7" r="1.95" fill="#000080"/>
<circle cx="575.3" cy="161.9" r="1.95" fill="#000080"/>
<circle cx="580.2" cy="171.5" r="1.95" fill="#000080"/>
<circle cx="488.6" cy="175.4" r="1.95" fill="#000080"/>
<circle cx="640.2" cy="172.6" r="1.95" fill="#000080"/>
<circle cx="481.3" cy="170.3" r="1.95" fill="#000080"/>
<circle cx="527.3" cy="172.5" r="1.95" fill="#000080"/>
<circle cx="552.9" cy="169.0" r="1.95" fill="#000080"/>
<circle cx="496.2" cy="165.4" r="1.95" fill="#000080"/>
<circle cx="452.7" cy="168.4" r="1.95" fill="#000080"/>
<circle cx="612.2" cy="164.2" r="1.95" fill="#000080"/>
<circle cx="632.4" cy="164.6" r="1.95" fill="#000080"/>
<circle cx="462.7" cy="175.9" r="1.95" fill="#000080"/>
<circle cx="545.4" cy="163.2" r="1.95" fill="#000080"/>
<circle cx="499.5" cy="175.1" r="1.95" fill="#000080"/>
<circle cx="540.9" cy="176.7" r="1.95" fill="#000080"/>
<circle cx="572.2" cy="168.0" r="1.95" fill="#000080"/>
<circle cx="539.1" cy="169.0" r="1.95" fill="#000080"/>
<circle cx="607.4" cy="173.3" r="1.95" fill="#000080"/>
<circle cx="616.7" cy="171.2" r="1.95" fill="#000080"/>
<circle cx="453.6" cy="175.9" r="1.95" fill="#000080"/>
<circle cx="406.6" cy="165.0" r="1.95" fill="#000080"/>
<circle cx="489.8" cy="171.2" r="1.95" fill="#000080"/>
<circle cx="478.8" cy="167.6" r="1.95" fill="#000080"/>
<circle cx="596.5" cy="167.9" r="1.95" fill="#000080"/>
<circle cx="557.5" cy="165.4" r="1.95" fill="#000080"/>
<circle cx="402.2" cy="162.4" r="1.95" fill="#000080"/>
<circle cx="442.3" cy="162.5" r="1.95" fill="#000080"/>
<circle cx="537.6" cy="175.0" r="1.95" fill="#000080"/>
<circle cx="638.7" cy="175.6" r="1.95" fill="#000080"/>
<circle cx="411.4" cy="171.5" r="1.95" fill="#000080"/>
<circle cx="583.3" cy="171.5" r="1.95" fill="#000080"/>
<circle cx="519.4" cy="166.4" r="1.95" fill="#000080"/>
<circle cx="439.7" cy="161.6" r="1.95" fill="#999999"/>
<circle cx="652.3" cy="176.1" r="1.95" fill="#000080"/>
<circle cx="483.1" cy="174.8" r="1.95" fill="#000080"/>
<circle cx="591.0" cy="168.9" r="1.95" fill="#000080"/>
<circle cx="376.5" cy="169.5" r="1.95" fill="#999999"/>
<circle cx="504.5" cy="174.4" r="1.95" fill="#000080"/>
<circle cx="615.9" cy="176.5" r="1.95" fill="#000080"/>
<circle cx="626.9" cy="163.0" r="1.95" fill="#000080"/>
<circle cx="435.6" cy="161.4" r="1.95" fill="#000080"/>
<circle cx="568.7" cy="174.9" r="1.95" fill="#000080"/>
<circle cx="638.8" cy="169.6" r="1.95" fill="#000080"/>
<circle cx="580.0" cy="167.0" r="1.95" fill="#000080"/>
<circle cx="451.9" cy="164.4" r="1.95" fill="#000080"/>
<circle cx="589.0" cy="166.7" r="1.95" fill="#000080"/>
<circle cx="430.9" cy="168.8" r="1.95" fill="#000080"/>
<circle cx="590.5" cy="172.7" r="1.95" fill="#000080"/>
<circle cx="609.5" cy="175.6" r="1.95" fill="#000080"/>
<circle cx="575.7" cy="174.7" r="1.95" fill="#000080"/>
<circle cx="607.2" cy="163.5" r="1.95" fill="#000080"/>
<circle cx="627.0" cy="167.5" r="1.95" fill="#000080"/>
<circle cx="591.2" cy="175.0" r="1.95" fill="#000080"/>
<circle cx="497.4" cy="168.4" r="1.95" fill="#000080"/>
<circle cx="469.4" cy="176.1" r="1.95" fill="#000080"/>
<circle cx="559.2" cy="162.6" r="1.95" fill="#000080"/>
<circle cx="372.2" cy="159.5" r="1.95" fill="#000080"/>
<circle cx="647.8" cy="176.1" r="1.95" fill="#000080"/>
<circle cx="404.1" cy="170.7" r="1.95" fill="#000080"/>
<circle cx="622.7" cy="168.4" r="1.95" fill="#000080"/>
<circle cx="528.0" cy="174.8" r="1.95" fill="#000080"/>
<circle cx="599.6" cy="176.4" r="1.95" fill="#000080"/>
<circle cx="619.9" cy="174.4" r="1.95" fill="#000080"/>
<circle cx="657.0" cy="163.8" r="1.95" fill="#000080"/>
<circle cx="602.6" cy="163.2" r="1.95" fill="#000080"/>
<circle cx="643.5" cy="173.4" r="1.95" fill="#000080"/>
<circle cx="431.0" cy="165.3" r="1.95" fill="#000080"/>
<circle cx="549.4" cy="160.8" r="1.95" fill="#000080"/>
<circle cx="610.9" cy="167.5" r="1.95" fill="#000080"/>
<circle cx="559.2" cy="171.0" r="1.95" fill="#000080"/>
<circle cx="607.5" cy="170.2" r="1.95" fill="#000080"/>
<circle cx="409.5" cy="165.1" r="1.95" fill="#000080"/>
<circle cx="635.3" cy="163.0" r="1.95" fill="#000080"/>
<circle cx="486.5" cy="169.2" r="1.95" fill="#000080"/>
<circle cx="372.5" cy="176.7" r="1.95" fill="#000080"/>
<circle cx="580.2" cy="163.6" r="1.95" fill="#000080"/>
<circle cx="420.3" cy="176.5" r="1.95" fill="#000080"/>
<circle cx="425.4" cy="164.6" r="1.95" fill="#000080"/>
<circle cx="409.6" cy="176.1" r="1.95" fill="#000080"/>
<circle cx="554.2" cy="171.5" r="1.95" fill="#000080"/>
<circle cx="620.1" cy="171.3" r="1.95" fill="#000080"/>
<circle cx="396.5" cy="164.6" r="1.95" fill="#000080"/>
<circle cx="655.7" cy="169.6" r="1.95" fill="#000080"/>
<circle cx="543.2" cy="175.7" r="1.95" fill="#000080"/>
<circle cx="615.8" cy="163.4" r="1.95" fill="#999999"/>
<circle cx="493.9" cy="171.7" r="1.95" fill="#000080"/>
<circle cx="574.0" cy="176.3" r="1.95" fill="#000080"/>
<circle cx="542.6" cy="172.5" r="1.95" fill="#000080"/>
<circle cx="630.2" cy="176.3" r="1.95" fill="#000080"/>
<circle cx="492.2" cy="165.7" r="1.95" fill="#000080"/>
<circle cx="622.3" cy="173.8" r="1.95" fill="#000080"/>
<circle cx="558.7" cy="167.9" r="1.95" fill="#000080"/>
<circle cx="461.5" cy="164.0" r="1.95" fill="#000080"/>
<circle cx="654.5" cy="167.2" r="1.95" fill="#000080"/>
<circle cx="398.7" cy="162.0" r="1.95" fill="#000080"/>
<circle cx="565.3" cy="168.8" r="1.95" fill="#000080"/>
<circle cx="519.6" cy="172.7" r="1.95" fill="#000080"/>
<circle cx="409.6" cy="162.0" r="1.95" fill="#000080"/>
<circle cx="375.2" cy="163.1" r="1.95" fill="#000080"/>
<circle cx="540.2" cy="164.8" r="1.95" fill="#000080"/>
<circle cx="627.6" cy="175.0" r="1.95" fill="#000080"/>
<circle cx="561.3" cy="176.4" r="1.95" fill="#000080"/>
<circle cx="584.1" cy="167.2" r="1.95" fill="#000080"/>
<circle cx="424.3" cy="162.0" r="1.95" fill="#000080"/>
<circle cx="418.0" cy="163.6" r="1.95" fill="#000080"/>
<circle cx="525.9" cy="169.0" r="1.95" fill="#000080"/>
<circle cx="428.9" cy="162.6" r="1.95" fill="#000080"/>
<circle cx="600.4" cy="166.8" r="1.95" fill="#000080"/>
<circle cx="418.2" cy="170.3" r="1.95" fill="#000080"/>
<circle cx="415.9" cy="162.3" r="1.95" fill="#000080"/>
<circle cx="386.3" cy="164.8" r="1.95" fill="#000080"/>
<circle cx="480.6" cy="164.3" r="1.95" fill="#000080"/>
<circle cx="499.9" cy="165.3" r="1.95" fill="#000080"/>
<circle cx="476.5" cy="170.3" r="1.95" fill="#000080"/>
<circle cx="587.7" cy="175.6" r="1.95" fill="#000080"/>
<circle cx="531.8" cy="166.8" r="1.95" fill="#000080"/>
<circle cx="462.3" cy="170.6" r="1.95" fill="#000080"/>
<circle cx="464.0" cy="167.8" r="1.95" fill="#000080"/>
<circle cx="564.5" cy="160.4" r="1.95" fill="#000080"/>
<circle cx="410.6" cy="168.1" r="1.95" fill="#000080"/>
<circle cx="555.8" cy="162.3" r="1.95" fill="#000080"/>
<circle cx="582.9" cy="164.1" r="1.95" fill="#000080"/>
<circle cx="396.5" cy="169.1" r="1.95" fill="#000080"/>
<circle cx="574.6" cy="171.6" r="1.95" fill="#000080"/>
<circle cx="489.7" cy="167.2" r="1.95" fill="#000080"/>
<circle cx="376.0" cy="173.6" r="1.95" fill="#000080"/>
<circle cx="485.2" cy="176.0" r="1.95" fill="#000080"/>
<circle cx="394.8" cy="167.0" r="1.95" fill="#000080"/>
<circle cx="632.2" cy="169.0" r="1.95" fill="#000080"/>
<circle cx="605.5" cy="168.2" r="1.95" fill="#000080"/>
<circle cx="399.1" cy="166.8" r="1.95" fill="#000080"/>
<circle cx="549.9" cy="170.7" r="1.95" fill="#000080"/>
<circle cx="577.0" cy="166.3" r="1.95" fill="#000080"/>
<circle cx="630.0" cy="170.0" r="1.95" fill="#000080"/>
<circle cx="625.4" cy="173.0" r="1.95" fill="#000080"/>
<circle cx="502.9" cy="166.8" r="1.95" fill="#000080"/>
<circle cx="439.0" cy="175.9" r="1.95" fill="#000080"/>
<circle cx="487.5" cy="165.1" r="1.95" fill="#000080"/>
<circle cx="485.0" cy="166.4" r="1.95" fill="#000080"/>
<circle cx="413.6" cy="172.5" r="1.95" fill="#000080"/>
<circle cx="551.8" cy="176.3" r="1.95" fill="#000080"/>
<circle cx="404.7" cy="163.4" r="1.95" fill="#000080"/>
<circle cx="479.5" cy="175.3" r="1.95" fill="#000080"/>
<circle cx="515.2" cy="166.7" r="1.95" fill="#000080"/>
<circle cx="651.7" cy="164.4" r="1.95" fill="#000080"/>
<circle cx="605.0" cy="164.6" r="1.95" fill="#000080"/>
<circle cx="619.3" cy="168.6" r="1.95" fill="#000080"/>
<circle cx="372.3" cy="163.3" r="1.95" fill="#000080"/>
<circle cx="533.0" cy="170.4" r="1.95" fill="#000080"/>
<circle cx="541.4" cy="162.2" r="1.95" fill="#000080"/>
<circle cx="653.1" cy="170.1" r="1.95" fill="#000080"/>
<circle cx="455.0" cy="163.3" r="1.95" fill="#000080"/>
<circle cx="567.5" cy="170.4" r="1.95" fill="#000080"/>
<circle cx="498.7" cy="172.7" r="1.95" fill="#000080"/>
<circle cx="550.8" cy="167.2" r="1.95" fill="#000080"/>
<circle cx="581.7" cy="175.5" r="1.95" fill="#000080"/>
<circle cx="449.0" cy="173.6" r="1.95" fill="#999999"/>
<circle cx="657.9" cy="170.7" r="1.95" fill="#000080"/>
<circle cx="466.4" cy="163.0" r="1.95" fill="#000080"/>
<circle cx="529.0" cy="170.5" r="1.95" fill="#000080"/>
<circle cx="657.8" cy="168.3" r="1.95" fill="#000080"/>
<circle cx="427.4" cy="176.2" r="1.95" fill="#000080"/>
<circle cx="394.1" cy="176.0" r="1.95" fill="#000080"/>
<circle cx="542.2" cy="167.2" r="1.95" fill="#000080"/>
<circle cx="520.3" cy="175.7" r="1.95" fill="#000080"/>
<circle cx="420.6" cy="161.8" r="1.95" fill="#000080"/>
<circle cx="456.8" cy="170.9" r="1.95" fill="#000080"/>
<circle cx="423.2" cy="168.7" r="1.95" fill="#000080"/>
<circle cx="379.1" cy="174.8" r="1.95" fill="#000080"/>
<circle cx="502.7" cy="176.2" r="1.95" fill="#000080"/>
<circle cx="531.9" cy="173.4" r="1.95" fill="#000080"/>
<circle cx="527.8" cy="166.5" r="1.95" fill="#999999"/>
<circle cx="444.9" cy="176.2" r="1.95" fill="#000080"/>
<circle cx="390.0" cy="176.7" r="1.95" fill="#000080"/>
<circle cx="609.8" cy="164.9" r="1.95" fill="#000080"/>
<circle cx="537.1" cy="167.4" r="1.95" fill="#000080"/>
<circle cx="475.9" cy="166.1" r="1.95" fill="#000080"/>
<circle cx="435.0" cy="173.2" r="1.95" fill="#000080"/>
<circle cx="425.6" cy="168.9" r="1.95" fill="#000080"/>
<circle cx="605.5" cy="174.9" r="1.95" fill="#000080"/>
<circle cx="633.5" cy="173.8" r="1.95" fill="#999999"/>
<circle cx="594.1" cy="165.5" r="1.95" fill="#000080"/>
<circle cx="650.0" cy="170.9" r="1.95" fill="#000080"/>
<circle cx="613.4" cy="171.1" r="1.95" fill="#000080"/>
<circle cx="432.7" cy="163.5" r="1.95" fill="#000080"/>
<circle cx="380.2" cy="166.1" r="1.95" fill="#000080"/>
<circle cx="544.3" cy="165.8" r="1.95" fill="#000080"/>
<circle cx="437.5" cy="168.8" r="1.95" fill="#000080"/>
<circle cx="598.5" cy="172.7" r="1.95" fill="#000080"/>
<circle cx="444.7" cy="167.7" r="1.95" fill="#000080"/>
<circle cx="554.4" cy="164.7" r="1.95" fill="#000080"/>
<circle cx="404.6" cy="167.4" r="1.95" fill="#000080"/>
<circle cx="602.5" cy="171.3" r="1.95" fill="#000080"/>
<circle cx="637.5" cy="164.8" r="1.95" fill="#000080"/>
<circle cx="558.2" cy="174.5" r="1.95" fill="#999999"/>
<circle cx="641.0" cy="176.9" r="1.95" fill="#000080"/>
<circle cx="395.8" cy="162.2" r="1.95" fill="#000080"/>
<circle cx="537.3" cy="170.6" r="1.95" fill="#000080"/>
<circle cx="509.6" cy="166.8" r="1.95" fill="#000080"/>
<circle cx="451.6" cy="161.6" r="1.95" fill="#999999"/>
<circle cx="373.3" cy="168.8" r="1.95" fill="#000080"/>
<circle cx="565.4" cy="171.4" r="1.95" fill="#000080"/>
<circle cx="618.1" cy="166.1" r="1.95" fill="#000080"/>
<circle cx="570.1" cy="160.8" r="1.95" fill="#000080"/>
<circle cx="418.8" cy="174.3" r="1.95" fill="#000080"/>
<circle cx="389.2" cy="165.8" r="1.95" fill="#000080"/>
<circle cx="556.3" cy="169.4" r="1.95" fill="#000080"/>
<circle cx="500.1" cy="170.4" r="1.95" fill="#000080"/>
<circle cx="483.4" cy="168.6" r="1.95" fill="#000080"/>
<circle cx="644.1" cy="176.4" r="1.95" fill="#000080"/>
<circle cx="472.2" cy="172.0" r="1.95" fill="#000080"/>
<circle cx="469.4" cy="166.3" r="1.95" fill="#999999"/>
<circle cx="654.5" cy="164.6" r="1.95" fill="#000080"/>
<circle cx="616.2" cy="173.6" r="1.95" fill="#000080"/>
<circle cx="524.8" cy="166.1" r="1.95" fill="#000080"/>
<circle cx="402.1" cy="168.3" r="1.95" fill="#000080"/>
<circle cx="577.8" cy="172.2" r="1.95" fill="#000080"/>
<circle cx="479.4" cy="172.6" r="1.95" fill="#000080"/>
<circle cx="594.5" cy="176.5" r="1.95" fill="#000080"/>
<circle cx="478.0" cy="164.4" r="1.95" fill="#000080"/>
<circle cx="605.3" cy="171.1" r="1.95" fill="#000080"/>
<circle cx="491.5" cy="168.9" r="1.95" fill="#999999"/>
<circle cx="444.6" cy="164.5" r="1.95" fill="#000080"/>
<circle cx="459.8" cy="161.5" r="1.95" fill="#000080"/>
<circle cx="495.6" cy="173.4" r="1.95" fill="#000080"/>
<circle cx="547.4" cy="171.3" r="1.95" fill="#000080"/>
<circle cx="618.9" cy="163.3" r="1.95" fill="#999999"/>
<circle cx="546.7" cy="161.0" r="1.95" fill="#000080"/>
<circle cx="380.2" cy="169.4" r="1.95" fill="#000080"/>
<circle cx="390.7" cy="174.3" r="1.95" fill="#000080"/>
<circle cx="578.1" cy="161.5" r="1.95" fill="#000080"/>
<circle cx="561.1" cy="168.3" r="1.95" fill="#000080"/>
<circle cx="442.4" cy="166.6" r="1.95" fill="#000080"/>
<circle cx="655.0" cy="175.1" r="1.95" fill="#000080"/>
<circle cx="432.2" cy="176.3" r="1.95" fill="#000080"/>
<circle cx="435.4" cy="176.6" r="1.95" fill="#000080"/>
<circle cx="393.6" cy="160.6" r="1.95" fill="#000080"/>
<circle cx="466.7" cy="168.5" r="1.95" fill="#000080"/>
<circle cx="481.2" cy="167.1" r="1.95" fill="#000080"/>
<circle cx="620.7" cy="176.8" r="1.95" fill="#000080"/>
<circle cx="561.5" cy="160.2" r="1.95" fill="#000080"/>
<circle cx="566.5" cy="176.5" r="1.95" fill="#000080"/>
<circle cx="502.1" cy="173.4" r="1.95" fill="#000080"/>
<circle cx="591.3" cy="166.1" r="1.95" fill="#000080"/>
<circle cx="457.9" cy="176.8" r="1.95" fill="#000080"/>
<circle cx="629.8" cy="167.5" r="1.95" fill="#000080"/>
<circle cx="412.0" cy="163.5" r="1.95" fill="#000080"/>
<circle cx="567.9" cy="167.9" r="1.95" fill="#000080"/>
<circle cx="450.9" cy="170.2" r="1.95" fill="#000080"/>
<circle cx="383.8" cy="166.0" r="1.95" fill="#000080"/>
<circle cx="623.0" cy="163.2" r="1.95" fill="#000080"/>
<circle cx="589.1" cy="170.6" r="1.95" fill="#000080"/>
<circle cx="521.8" cy="166.1" r="1.95" fill="#999999"/>
<circle cx="613.5" cy="176.4" r="1.95" fill="#000080"/>
<circle cx="513.3" cy="168.2" r="1.95" fill="#000080"/>
<circle cx="394.4" cy="170.8" r="1.95" fill="#000080"/>
<circle cx="634.9" cy="165.5" r="1.95" fill="#000080"/>
<circle cx="452.0" cy="172.9" r="1.95" fill="#000080"/>
<circle cx="544.6" cy="168.6" r="1.95" fill="#000080"/>
<circle cx="385.0" cy="170.6" r="1.95" fill="#000080"/>
<circle cx="476.7" cy="175.2" r="1.95" fill="#000080"/>
<circle cx="464.0" cy="173.3" r="1.95" fill="#000080"/>
<circle cx="535.1" cy="169.1" r="1.95" fill="#999999"/>
<circle cx="545.9" cy="174.3" r="1.95" fill="#000080"/>
<circle cx="542.3" cy="169.7" r="1.95" fill="#000080"/>
<circle cx="625.6" cy="165.4" r="1.95" fill="#000080"/>
<circle cx="507.4" cy="168.0" r="1.95" fill="#999999"/>
<circle cx="535.8" cy="176.6" r="1.95" fill="#000080"/>
<circle cx="577.2" cy="163.9" r="1.95" fill="#000080"/>
<circle cx="547.3" cy="176.3" r="1.95" fill="#000080"/>
<circle cx="600.6" cy="173.6" r="1.95" fill="#000080"/>
<circle cx="546.4" cy="166.8" r="1.95" fill="#000080"/>
<circle cx="403.3" cy="176.7" r="1.95" fill="#000080"/>
<circle cx="457.4" cy="162.3" r="1.95" fill="#000080"/>
<circle cx="375.0" cy="171.3" r="1.95" fill="#000080"/>
<circle cx="565.3" cy="163.7" r="1.95" fill="#000080"/>
<circle cx="399.4" cy="172.9" r="1.95" fill="#000080"/>
<circle cx="428.0" cy="165.2" r="1.95" fill="#000080"/>
<circle cx="639.8" cy="167.3" r="1.95" fill="#000080"/>
<circle cx="657.7" cy="173.2" r="1.95" fill="#000080"/>
<circle cx="544.3" cy="160.7" r="1.95" fill="#000080"/>
<circle cx="471.0" cy="169.7" r="1.95" fill="#000080"/>
<circle cx="387.5" cy="174.0" r="1.95" fill="#000080"/>
<circle cx="372.4" cy="171.5" r="1.95" fill="#000080"/>
<circle cx="551.0" cy="173.5" r="1.95" fill="#999999"/>
<circle cx="570.1" cy="170.7" r="1.95" fill="#000080"/>
<circle cx="581.9" cy="169.6" r="1.95" fill="#000080"/>
<circle cx="574.9" cy="168.3" r="1.95" fill="#000080"/>
<circle cx="506.5" cy="176.3" r="1.95" fill="#000080"/>
<circle cx="414.1" cy="167.9" r="1.95" fill="#000080"/>
<circle cx="399.4" cy="164.3" r="1.95" fill="#000080"/>
<circle cx="430.1" cy="171.0" r="1.95" fill="#000080"/>
<circle cx="623.5" cy="171.5" r="1.95" fill="#000080"/>
<circle cx="446.3" cy="169.5" r="1.95" fill="#000080"/>
<circle cx="637.1" cy="167.4" r="1.95" fill="#000080"/>
<circle cx="560.0" cy="165.2" r="1.95" fill="#000080"/>
<circle cx="583.7" cy="176.9" r="1.95" fill="#000080"/>
<circle cx="598.3" cy="165.3" r="1.95" fill="#000080"/>
<circle cx="378.4" cy="172.2" r="1.95" fill="#000080"/>
<circle cx="401.6" cy="171.9" r="1.95" fill="#000080"/>
<circle cx="646.5" cy="173.9" r="1.95" fill="#000080"/>
<circle cx="375.0" cy="176.8" r="1.95" fill="#000080"/>
<circle cx="505.4" cy="170.8" r="1.95" fill="#000080"/>
<circle cx="471.1" cy="174.2" r="1.95" fill="#000080"/>
<circle cx="530.0" cy="168.3" r="1.95" fill="#000080"/>
<circle cx="460.5" cy="176.8" r="1.95" fill="#000080"/>
<circle cx="378.2" cy="163.1" r="1.95" fill="#000080"/>
<circle cx="571.8" cy="162.9" r="1.95" fill="#000080"/>
<circle cx="642.8" cy="162.9" r="1.95" fill="#000080"/>
<circle cx="517.3" cy="171.9" r="1.95" fill="#000080"/>
<circle cx="433.5" cy="168.7" r="1.95" fill="#000080"/>
<circle cx="558.5" cy="160.3" r="1.95" fill="#000080"/>
<circle cx="424.3" cy="171.1" r="1.95" fill="#000080"/>
<circle cx="490.7" cy="173.4" r="1.95" fill="#000080"/>
<circle cx="454.6" cy="165.7" r="1.95" fill="#000080"/>
<circle cx="647.1" cy="166.0" r="1.95" fill="#000080"/>
<circle cx="440.4" cy="164.2" r="1.95" fill="#000080"/>
<circle cx="524.9" cy="172.0" r="1.95" fill="#000080"/>
<circle cx="586.1" cy="165.4" r="1.95" fill="#000080"/>
<circle cx="425.3" cy="174.4" r="1.95" fill="#000080"/>
<circle cx="628.5" cy="172.2" r="1.95" fill="#000080"/>
<circle cx="646.7" cy="162.9" r="1.95" fill="#000080"/>
<circle cx="522.9" cy="176.4" r="1.95" fill="#000080"/>
<circle cx="375.0" cy="159.1" r="1.95" fill="#000080"/>
<circle cx="556.8" cy="172.5" r="1.95" fill="#000080"/>
<circle cx="639.5" cy="163.0" r="1.95" fill="#000080"/>
<circle cx="426.9" cy="161.2" r="1.95" fill="#000080"/>
<circle cx="557.5" cy="176.9" r="1.95" fill="#000080"/>
<circle cx="371.8" cy="166.7" r="1.95" fill="#000080"/>
<circle cx="435.1" cy="164.2" r="1.95" fill="#000080"/>
<circle cx="482.9" cy="165.1" r="1.95" fill="#000080"/>
<circle cx="642.8" cy="170.9" r="1.95" fill="#000080"/>
<circle cx="382.6" cy="161.5" r="1.95" fill="#000080"/>
<circle cx="482.0" cy="172.6" r="1.95" fill="#000080"/>
<circle cx="616.7" cy="168.6" r="1.95" fill="#000080"/>
<circle cx="656.7" cy="166.2" r="1.95" fill="#000080"/>
<circle cx="407.3" cy="176.8" r="1.95" fill="#000080"/>
<circle cx="461.7" cy="166.5" r="1.95" fill="#000080"/>
<circle cx="553.4" cy="174.0" r="1.95" fill="#000080"/>
<circle cx="526.7" cy="176.9" r="1.95" fill="#000080"/>
<circle cx="377.8" cy="176.7" r="1.95" fill="#000080"/>
<circle cx="636.2" cy="169.8" r="1.95" fill="#000080"/>
<circle cx="404.3" cy="160.8" r="1.95" fill="#000080"/>
<circle cx="419.9" cy="168.5" r="1.95" fill="#000080"/>
<circle cx="618.4" cy="176.3" r="1.95" fill="#000080"/>
<circle cx="602.7" cy="166.2" r="1.95" fill="#000080"/>
<circle cx="607.1" cy="176.9" r="1.95" fill="#000080"/>
<circle cx="564.0" cy="176.8" r="1.95" fill="#000080"/>
<circle cx="496.5" cy="170.9" r="1.95" fill="#000080"/>
<circle cx="449.3" cy="165.6" r="1.95" fill="#000080"/>
<circle cx="582.1" cy="161.7" r="1.95" fill="#000080"/>
<circle cx="490.0" cy="164.7" r="1.95" fill="#000080"/>
<circle cx="406.1" cy="172.1" r="1.95" fill="#000080"/>
<circle cx="493.7" cy="176.9" r="1.95" fill="#000080"/>
<circle cx="474.8" cy="119.3" r="1.95" fill="#000080"/>
<circle cx="472.4" cy="129.5" r="1.95" fill="#000080"/>
<circle cx="502.5" cy="134.9" r="1.95" fill="#999999"/>
<circle cx="495.7" cy="138.4" r="1.95" fill="#000080"/>
<circle cx="529.5" cy="135.6" r="1.95" fill="#000080"/>
<circle cx="640.6" cy="140.1" r="1.95" fill="#000080"/>
<circle cx="374.4" cy="146.1" r="1.95" fill="#000080"/>
<circle cx="377.0" cy="148.2" r="1.95" fill="#000080"/>
<circle cx="379.5" cy="151.9" r="1.95" fill="#000080"/>
<circle cx="376.6" cy="155.5" r="1.95" fill="#000080"/>
<circle cx="389.0" cy="157.7" r="1.95" fill="#000080"/>
<circle cx="391.2" cy="154.5" r="1.95" fill="#000080"/>
<circle cx="394.1" cy="154.5" r="1.95" fill="#000080"/>
<circle cx="396.3" cy="154.5" r="1.95" fill="#000080"/>
<circle cx="421.4" cy="145.8" r="1.95" fill="#999999"/>
<circle cx="421.4" cy="150.9" r="1.95" fill="#000080"/>
<circle cx="425.9" cy="152.6" r="1.95" fill="#000080"/>
<circle cx="426.9" cy="155.5" r="1.95" fill="#000080"/>
<circle cx="425.9" cy="158.5" r="1.95" fill="#000080"/>
<circle cx="447.4" cy="150.9" r="1.95" fill="#999999"/>
<circle cx="441.2" cy="157.4" r="1.95" fill="#000080"/>
<circle cx="452.5" cy="154.1" r="1.95" fill="#000080"/>
<circle cx="460.8" cy="146.1" r="1.95" fill="#000080"/>
<circle cx="465.6" cy="149.7" r="1.95" fill="#000080"/>
<circle cx="462.3" cy="151.9" r="1.95" fill="#000080"/>
<circle cx="457.6" cy="156.3" r="1.95" fill="#000080"/>
<circle cx="468.5" cy="153.4" r="1.95" fill="#000080"/>
<circle cx="433.5" cy="159.2" r="1.95" fill="#000080"/>
<circle cx="465.8" cy="149.3" r="1.95" fill="#000080"/>
<circle cx="471.2" cy="148.6" r="1.95" fill="#000080"/>
<circle cx="473.5" cy="148.6" r="1.95" fill="#000080"/>
<circle cx="479.2" cy="151.7" r="1.95" fill="#000080"/>
<circle cx="479.2" cy="154.4" r="1.95" fill="#000080"/>
<circle cx="485.1" cy="153.6" r="1.95" fill="#000080"/>
<circle cx="488.9" cy="155.4" r="1.95" fill="#000080"/>
<circle cx="483.8" cy="156.7" r="1.95" fill="#000080"/>
<circle cx="500.8" cy="150.2" r="1.95" fill="#000080"/>
<circle cx="497.7" cy="157.9" r="1.95" fill="#000080"/>
<circle cx="497.7" cy="161.0" r="1.95" fill="#000080"/>
<circle cx="506.4" cy="160.1" r="1.95" fill="#000080"/>
<circle cx="514.4" cy="161.3" r="1.95" fill="#999999"/>
<circle cx="511.3" cy="161.3" r="1.95" fill="#000080"/>
<circle cx="525.2" cy="150.2" r="1.95" fill="#000080"/>
<circle cx="519.0" cy="154.8" r="1.95" fill="#000080"/>
<circle cx="522.1" cy="154.8" r="1.95" fill="#000080"/>
<circle cx="526.0" cy="155.4" r="1.95" fill="#000080"/>
<circle cx="529.0" cy="155.4" r="1.95" fill="#000080"/>
<circle cx="532.1" cy="154.8" r="1.95" fill="#999999"/>
<circle cx="531.7" cy="161.3" r="1.95" fill="#000080"/>
<circle cx="550.6" cy="148.6" r="1.95" fill="#000080"/>
<circle cx="554.5" cy="148.6" r="1.95" fill="#000080"/>
<circle cx="557.6" cy="147.7" r="1.95" fill="#000080"/>
<circle cx="561.0" cy="145.6" r="1.95" fill="#000080"/>
<circle cx="563.0" cy="152.0" r="1.95" fill="#000080"/>
<circle cx="544.5" cy="154.4" r="1.95" fill="#000080"/>
<circle cx="548.3" cy="154.4" r="1.95" fill="#000080"/>
<circle cx="553.0" cy="155.9" r="1.95" fill="#000080"/>
<circle cx="541.4" cy="158.2" r="1.95" fill="#000080"/>
<circle cx="539.1" cy="161.3" r="1.95" fill="#000080"/>
<circle cx="556.0" cy="159.8" r="1.95" fill="#000080"/>
<circle cx="628.4" cy="149.7" r="1.95" fill="#000080"/>
<circle cx="561.2" cy="145.9" r="1.95" fill="#000080"/>
<circle cx="564.3" cy="147.1" r="1.95" fill="#000080"/>
<circle cx="563.1" cy="152.0" r="1.95" fill="#000080"/>
<circle cx="566.2" cy="154.8" r="1.95" fill="#000080"/>
<circle cx="569.3" cy="154.8" r="1.95" fill="#000080"/>
<circle cx="570.8" cy="151.7" r="1.95" fill="#999999"/>
<circle cx="574.7" cy="155.4" r="1.95" fill="#000080"/>
<circle cx="577.7" cy="155.4" r="1.95" fill="#000080"/>
<circle cx="580.8" cy="154.8" r="1.95" fill="#000080"/>
<circle cx="601.4" cy="155.9" r="1.95" fill="#000080"/>
<circle cx="604.8" cy="157.4" r="1.95" fill="#000080"/>
<circle cx="614.3" cy="157.0" r="1.95" fill="#000080"/>
<circle cx="622.5" cy="155.4" r="1.95" fill="#000080"/>
<circle cx="626.0" cy="155.1" r="1.95" fill="#999999"/>
<circle cx="647.7" cy="157.0" r="1.95" fill="#000080"/>
<circle cx="656.9" cy="156.4" r="1.95" fill="#000080"/>
<circle cx="631.8" cy="159.8" r="1.95" fill="#000080"/>
<circle cx="641.0" cy="159.8" r="1.95" fill="#000080"/>
<circle cx="646.4" cy="159.8" r="1.95" fill="#000080"/>
<circle cx="654.4" cy="159.8" r="1.95" fill="#000080"/>
<circle cx="567.4" cy="172.9" r="1.95" fill="#87cefa"/>
<circle cx="502.5" cy="170.6" r="1.95" fill="#00e600"/>
<circle cx="507.9" cy="170.6" r="1.95" fill="#00e600"/>
<circle cx="510.7" cy="169.3" r="1.95" fill="#00e600"/>
<circle cx="511.0" cy="172.1" r="2.0" fill="#ff0000"/>
<path d="M514.7,169.8L517.1,172.1L514.7,174.4L512.4,172.1Z" fill="#8c32dc"/>
<circle cx="522.4" cy="171.8" r="2.0" fill="#ff0000"/>
<circle cx="524.9" cy="174.9" r="1.95" fill="#00e600"/>
<circle cx="514.7" cy="176.0" r="1.95" fill="#00e600"/>
</g>
<text x="514.4" y="167.6" text-anchor="middle" style="font-size:6px;fill:#111;stroke:#111;stroke-width:0.1px">rs2058019</text>
<line x1="371.4" y1="1.5" x2="658.3" y2="1.5" stroke="#dedede" stroke-width="1"/>
<line x1="371.4" y1="1.5" x2="371.4" y2="185.4" stroke="#b0b0b0" stroke-width="0.9"/>
<line x1="371.4" y1="185.4" x2="658.3" y2="185.4" stroke="#bcbcbc" stroke-width="0.9"/>
<line x1="658.3" y1="1.5" x2="658.3" y2="185.4" stroke="#c4c4c4" stroke-width="0.9"/>
<line x1="367.4" y1="177.2" x2="371.4" y2="177.2" stroke="#999" stroke-width="0.8"/>
<text x="364.4" y="179.4" text-anchor="end" class="t">0</text>
<line x1="367.4" y1="143.84" x2="371.4" y2="143.84" stroke="#999" stroke-width="0.8"/>
<text x="364.4" y="146.04" text-anchor="end" class="t">2</text>
<line x1="367.4" y1="110.48" x2="371.4" y2="110.48" stroke="#999" stroke-width="0.8"/>
<text x="364.4" y="112.68" text-anchor="end" class="t">4</text>
<line x1="367.4" y1="77.12" x2="371.4" y2="77.12" stroke="#999" stroke-width="0.8"/>
<text x="364.4" y="79.32" text-anchor="end" class="t">6</text>
<line x1="367.4" y1="43.76" x2="371.4" y2="43.76" stroke="#999" stroke-width="0.8"/>
<text x="364.4" y="45.96" text-anchor="end" class="t">8</text>
<line x1="367.4" y1="10.4" x2="371.4" y2="10.4" stroke="#999" stroke-width="0.8"/>
<text x="364.4" y="12.6" text-anchor="end" class="t">10</text>
<line x1="658.7" y1="177.2" x2="658.7" y2="10.4" stroke="#bcbcf0" stroke-width="1"/>
<line x1="658.3" y1="177.2" x2="662.3" y2="177.2" stroke="#88f" stroke-width="0.8"/>
<text x="665.8" y="179" class="tb">0</text>
<line x1="658.3" y1="143.84" x2="662.3" y2="143.84" stroke="#88f" stroke-width="0.8"/>
<text x="665.8" y="145.64" class="tb">20</text>
<line x1="658.3" y1="110.48" x2="662.3" y2="110.48" stroke="#88f" stroke-width="0.8"/>
<text x="665.8" y="112.28" class="tb">40</text>
<line x1="658.3" y1="77.12" x2="662.3" y2="77.12" stroke="#88f" stroke-width="0.8"/>
<text x="665.8" y="78.92" class="tb">60</text>
<line x1="658.3" y1="43.76" x2="662.3" y2="43.76" stroke="#88f" stroke-width="0.8"/>
<text x="665.8" y="45.56" class="tb">80</text>
<line x1="658.3" y1="10.4" x2="662.3" y2="10.4" stroke="#88f" stroke-width="0.8"/>
<text x="665.8" y="12.2" class="tb">100</text>
<text transform="translate(351.3,93.95) rotate(-90)" text-anchor="middle" class="t" style="font-size:6.0px">− log<tspan style="font-size:4.3px" dy="1.3">10</tspan><tspan dy="-1.3">(p−value)</tspan></text>
<text transform="translate(677.9,94.65) rotate(90)" text-anchor="middle" class="tb" style="font-size:6.0px;stroke-width:0">Recombination rate (cM/Mb)</text>
<rect x="371.4" y="192.8" width="286.9" height="11.1" fill="none" stroke="#ccc" stroke-width="0.9"/>
<line x1="423.4" y1="203.9" x2="638.8" y2="203.9" stroke="#8a8a8a" stroke-width="0.8"/>
<line x1="423.4" y1="203.9" x2="423.4" y2="207.5" stroke="#999" stroke-width="0.8"/>
<text x="423.4" y="217.2" text-anchor="middle" class="t">42.1</text>
<line x1="495.2" y1="203.9" x2="495.2" y2="207.5" stroke="#999" stroke-width="0.8"/>
<text x="495.2" y="217.2" text-anchor="middle" class="t">42.2</text>
<line x1="567" y1="203.9" x2="567" y2="207.5" stroke="#999" stroke-width="0.8"/>
<text x="567" y="217.2" text-anchor="middle" class="t">42.3</text>
<line x1="638.8" y1="203.9" x2="638.8" y2="207.5" stroke="#999" stroke-width="0.8"/>
<text x="638.8" y="217.2" text-anchor="middle" class="t">42.4</text>
<text x="514.85" y="225.3" text-anchor="middle" class="t" style="font-size:6.0px">Position on chr7 (Mb)</text>
<line x1="371.4" y1="200.6" x2="550.63" y2="200.6" stroke="#7575d8" stroke-width="0.8"/>
<rect x="397.25" y="199.5" width="1.6" height="2.2" fill="#3535b0"/>
<rect x="408.5" y="199.5" width="0.8" height="2.2" fill="#3535b0"/>
<rect x="411.94" y="199.5" width="0.8" height="2.2" fill="#3535b0"/>
<rect x="414.17" y="199.5" width="0.8" height="2.2" fill="#3535b0"/>
<rect x="435.06" y="199.5" width="0.8" height="2.2" fill="#3535b0"/>
<rect x="486.47" y="199.5" width="0.8" height="2.2" fill="#3535b0"/>
<rect x="539.96" y="199.5" width="0.8" height="2.2" fill="#3535b0"/>
<rect x="550.23" y="199.5" width="0.8" height="2.2" fill="#3535b0"/>
<path d="M441.9,196.9L444.1,195.8L444.1,198Z" fill="#222"/><line x1="443.9" y1="196.9" x2="447.5" y2="196.9" stroke="#333" stroke-width="0.6"/>
<text x="448.1" y="198.95" font-style="italic" textLength="10.9" lengthAdjust="spacingAndGlyphs" style="font-size:5.7px;fill:#222">GLI3</text>
<rect x="631.3" y="4.5" width="23.6" height="57" fill="#fff" stroke="#999" stroke-width="0.8"/>
<rect x="634.7" y="14.6" width="5.8" height="8.85" fill="#ff0000"/>
<rect x="634.7" y="23.45" width="5.8" height="8.85" fill="#ffa500"/>
<rect x="634.7" y="32.3" width="5.8" height="8.85" fill="#00ee00"/>
<rect x="634.7" y="41.15" width="5.8" height="8.85" fill="#87cefa"/>
<rect x="634.7" y="50" width="5.8" height="8.85" fill="#000080"/>
<line x1="640.5" y1="23.45" x2="643.3" y2="23.45" stroke="#777" stroke-width="0.6"/>
<text x="645.1" y="25.95" class="ts">0.8</text>
<line x1="640.5" y1="32.3" x2="643.3" y2="32.3" stroke="#777" stroke-width="0.6"/>
<text x="645.1" y="34.8" class="ts">0.6</text>
<line x1="640.5" y1="41.15" x2="643.3" y2="41.15" stroke="#777" stroke-width="0.6"/>
<text x="645.1" y="43.65" class="ts">0.4</text>
<line x1="640.5" y1="50" x2="643.3" y2="50" stroke="#777" stroke-width="0.6"/>
<text x="645.1" y="52.5" class="ts">0.2</text>
<text x="641.3" y="12.7" style="font-size:7px;fill:#222">r<tspan style="font-size:4.6px" dy="-2.8">2</tspan></text>
<text x="391.4" y="12.6" text-anchor="middle" class="L" style="font-size:13.2px">b</text>
<polyline points="26.8,406.0 28.4,406.0 28.8,300.2 29.8,300.2 30.2,406.0 75.8,406.0 76.0,384.2 76.4,384.2 76.6,406.0 97.2,406.0 97.4,390.8 97.8,390.8 98.0,406.0 121.9,406.0 122.1,378.9 122.5,378.9 122.7,405.7 137.5,405.7 138.3,392.9 139.3,392.9 140.0,405.7 175.5,405.7 176.2,399.6 177.0,399.6 179.5,405.5 179.8,383.8 180.4,383.8 180.8,402.8 184.0,406.3 202.1,406.3 203.9,404.0 205.0,406.3 230.7,406.3 231.0,404.5 235.9,404.5 236.2,297.5 237.1,297.5 237.4,406.6 311.0,406.6 314.3,403.0" fill="none" stroke="#4a4aff" stroke-width="0.9"/>
<g stroke="#2a2a2a" stroke-width="0.75">
<circle cx="82.6" cy="395.3" r="1.95" fill="#000080"/>
<circle cx="55.3" cy="397.4" r="1.95" fill="#000080"/>
<circle cx="63.0" cy="396.1" r="1.95" fill="#000080"/>
<circle cx="72.0" cy="395.1" r="1.95" fill="#000080"/>
<circle cx="92.9" cy="395.9" r="1.95" fill="#000080"/>
<circle cx="38.5" cy="397.3" r="1.95" fill="#000080"/>
<circle cx="89.1" cy="395.7" r="1.95" fill="#000080"/>
<circle cx="96.1" cy="396.6" r="1.95" fill="#000080"/>
<circle cx="56.7" cy="395.3" r="1.95" fill="#000080"/>
<circle cx="28.1" cy="395.0" r="1.95" fill="#000080"/>
<circle cx="99.2" cy="396.7" r="1.95" fill="#999999"/>
<circle cx="61.0" cy="398.5" r="1.95" fill="#000080"/>
<circle cx="71.4" cy="398.9" r="1.95" fill="#000080"/>
<circle cx="84.9" cy="397.0" r="1.95" fill="#000080"/>
<circle cx="51.4" cy="396.6" r="1.95" fill="#000080"/>
<circle cx="42.1" cy="397.9" r="1.95" fill="#000080"/>
<circle cx="77.9" cy="398.6" r="1.95" fill="#000080"/>
<circle cx="36.0" cy="398.1" r="1.95" fill="#000080"/>
<circle cx="48.4" cy="396.9" r="1.95" fill="#000080"/>
<circle cx="91.3" cy="398.6" r="1.95" fill="#000080"/>
<circle cx="79.8" cy="396.0" r="1.95" fill="#000080"/>
<circle cx="59.7" cy="395.6" r="1.95" fill="#000080"/>
<circle cx="74.9" cy="397.3" r="1.95" fill="#000080"/>
<circle cx="57.8" cy="398.8" r="1.95" fill="#000080"/>
<circle cx="87.4" cy="398.7" r="1.95" fill="#000080"/>
<circle cx="33.4" cy="397.4" r="1.95" fill="#000080"/>
<circle cx="28.8" cy="398.3" r="1.95" fill="#000080"/>
<circle cx="74.5" cy="394.8" r="1.95" fill="#000080"/>
<circle cx="69.5" cy="396.2" r="1.95" fill="#000080"/>
<circle cx="64.0" cy="398.7" r="1.95" fill="#000080"/>
<circle cx="99.5" cy="394.1" r="1.95" fill="#000080"/>
<circle cx="81.8" cy="398.1" r="1.95" fill="#000080"/>
<circle cx="93.8" cy="398.3" r="1.95" fill="#000080"/>
<circle cx="45.4" cy="398.9" r="1.95" fill="#000080"/>
<circle cx="77.2" cy="395.6" r="1.95" fill="#000080"/>
<circle cx="33.6" cy="394.9" r="1.95" fill="#000080"/>
<circle cx="36.3" cy="395.3" r="1.95" fill="#000080"/>
<circle cx="86.6" cy="394.6" r="1.95" fill="#000080"/>
<circle cx="31.2" cy="398.9" r="1.95" fill="#000080"/>
<circle cx="42.3" cy="395.2" r="1.95" fill="#000080"/>
<circle cx="97.6" cy="398.7" r="1.95" fill="#000080"/>
<circle cx="50.4" cy="399.0" r="1.95" fill="#000080"/>
<circle cx="65.4" cy="395.6" r="1.95" fill="#000080"/>
<circle cx="60.9" cy="403.8" r="1.95" fill="#000080"/>
<circle cx="33.4" cy="405.1" r="1.95" fill="#000080"/>
<circle cx="28.6" cy="403.1" r="1.95" fill="#000080"/>
<circle cx="45.3" cy="402.6" r="1.95" fill="#000080"/>
<circle cx="78.6" cy="404.7" r="1.95" fill="#999999"/>
<circle cx="57.3" cy="403.5" r="1.95" fill="#000080"/>
<circle cx="50.8" cy="404.9" r="1.95" fill="#999999"/>
<circle cx="39.3" cy="405.4" r="1.95" fill="#000080"/>
<circle cx="87.6" cy="405.9" r="1.95" fill="#000080"/>
<circle cx="44.3" cy="405.7" r="1.95" fill="#000080"/>
<circle cx="90.7" cy="402.9" r="1.95" fill="#999999"/>
<circle cx="36.9" cy="405.5" r="1.95" fill="#000080"/>
<circle cx="94.9" cy="406.0" r="1.95" fill="#000080"/>
<circle cx="97.3" cy="402.9" r="1.95" fill="#000080"/>
<circle cx="90.5" cy="405.5" r="1.95" fill="#000080"/>
<circle cx="72.5" cy="406.1" r="1.95" fill="#000080"/>
<circle cx="71.3" cy="403.7" r="1.95" fill="#000080"/>
<circle cx="42.6" cy="403.0" r="1.95" fill="#000080"/>
<circle cx="48.5" cy="405.3" r="1.95" fill="#000080"/>
<circle cx="84.3" cy="404.4" r="1.95" fill="#000080"/>
<circle cx="81.9" cy="404.4" r="1.95" fill="#000080"/>
<circle cx="87.8" cy="402.8" r="1.95" fill="#000080"/>
<circle cx="54.2" cy="403.8" r="1.95" fill="#000080"/>
<circle cx="56.1" cy="405.7" r="1.95" fill="#000080"/>
<circle cx="99.4" cy="405.4" r="1.95" fill="#000080"/>
<circle cx="93.6" cy="402.6" r="1.95" fill="#000080"/>
<circle cx="59.0" cy="405.8" r="1.95" fill="#000080"/>
<circle cx="68.2" cy="406.3" r="1.95" fill="#000080"/>
<circle cx="52.8" cy="406.3" r="1.95" fill="#000080"/>
<circle cx="76.2" cy="405.3" r="1.95" fill="#000080"/>
<circle cx="66.5" cy="404.7" r="1.95" fill="#000080"/>
<circle cx="75.3" cy="402.8" r="1.95" fill="#000080"/>
<circle cx="35.8" cy="403.3" r="1.95" fill="#000080"/>
<circle cx="52.2" cy="402.8" r="1.95" fill="#000080"/>
<circle cx="31.4" cy="402.9" r="1.95" fill="#000080"/>
<circle cx="92.8" cy="404.8" r="1.95" fill="#000080"/>
<circle cx="39.8" cy="402.5" r="1.95" fill="#000080"/>
<circle cx="62.9" cy="406.3" r="1.95" fill="#000080"/>
<circle cx="41.7" cy="406.4" r="1.95" fill="#000080"/>
<circle cx="28.6" cy="406.4" r="1.95" fill="#000080"/>
<circle cx="99.7" cy="403.1" r="1.95" fill="#000080"/>
<circle cx="80.4" cy="406.3" r="1.95" fill="#000080"/>
<circle cx="68.6" cy="403.8" r="1.95" fill="#000080"/>
<circle cx="103.8" cy="403.5" r="1.95" fill="#000080"/>
<circle cx="102.7" cy="406.9" r="1.95" fill="#000080"/>
<circle cx="105.9" cy="406.1" r="1.95" fill="#000080"/>
<circle cx="121.6" cy="405.9" r="1.95" fill="#000080"/>
<circle cx="122.7" cy="398.1" r="1.95" fill="#000080"/>
<circle cx="124.4" cy="402.6" r="1.95" fill="#000080"/>
<circle cx="111.5" cy="406.6" r="1.95" fill="#000080"/>
<circle cx="113.6" cy="398.7" r="1.95" fill="#000080"/>
<circle cx="116.6" cy="405.4" r="1.95" fill="#000080"/>
<circle cx="111.7" cy="401.8" r="1.95" fill="#000080"/>
<circle cx="119.0" cy="403.1" r="1.95" fill="#000080"/>
<circle cx="107.6" cy="400.4" r="1.95" fill="#000080"/>
<circle cx="116.3" cy="396.7" r="1.95" fill="#000080"/>
<circle cx="109.3" cy="404.1" r="1.95" fill="#000080"/>
<circle cx="108.1" cy="392.4" r="1.95" fill="#000080"/>
<circle cx="125.0" cy="406.2" r="1.95" fill="#000080"/>
<circle cx="115.1" cy="401.5" r="1.95" fill="#000080"/>
<circle cx="113.7" cy="404.3" r="1.95" fill="#000080"/>
<circle cx="121.4" cy="401.0" r="1.95" fill="#000080"/>
<circle cx="126.4" cy="399.9" r="1.95" fill="#000080"/>
<circle cx="133.2" cy="394.8" r="1.95" fill="#000080"/>
<circle cx="134.6" cy="403.2" r="1.95" fill="#000080"/>
<circle cx="128.5" cy="388.6" r="1.95" fill="#000080"/>
<circle cx="128.7" cy="405.7" r="1.95" fill="#000080"/>
<circle cx="129.9" cy="397.6" r="1.95" fill="#000080"/>
<circle cx="132.6" cy="406.2" r="1.95" fill="#000080"/>
<circle cx="135.0" cy="392.2" r="1.95" fill="#000080"/>
<circle cx="127.5" cy="402.9" r="1.95" fill="#000080"/>
<circle cx="132.5" cy="400.9" r="1.95" fill="#999999"/>
<circle cx="137.0" cy="406.7" r="1.95" fill="#000080"/>
<circle cx="138.7" cy="402.3" r="1.95" fill="#000080"/>
<circle cx="146.4" cy="406.4" r="1.95" fill="#000080"/>
<circle cx="140.7" cy="405.7" r="1.95" fill="#000080"/>
<circle cx="149.3" cy="405.0" r="1.95" fill="#000080"/>
<circle cx="150.5" cy="391.6" r="1.95" fill="#000080"/>
<circle cx="154.7" cy="396.6" r="1.95" fill="#000080"/>
<circle cx="155.9" cy="402.8" r="1.95" fill="#000080"/>
<circle cx="154.0" cy="406.1" r="1.95" fill="#000080"/>
<circle cx="149.7" cy="388.2" r="1.95" fill="#000080"/>
<circle cx="143.0" cy="402.7" r="1.95" fill="#000080"/>
<circle cx="154.3" cy="392.8" r="1.95" fill="#000080"/>
<circle cx="150.7" cy="395.6" r="1.95" fill="#000080"/>
<circle cx="169.5" cy="386.3" r="1.95" fill="#000080"/>
<circle cx="163.1" cy="399.0" r="1.95" fill="#000080"/>
<circle cx="169.4" cy="404.3" r="1.95" fill="#000080"/>
<circle cx="171.7" cy="401.5" r="1.95" fill="#000080"/>
<circle cx="167.3" cy="406.8" r="1.95" fill="#000080"/>
<circle cx="164.2" cy="393.6" r="1.95" fill="#000080"/>
<circle cx="173.6" cy="404.7" r="1.95" fill="#000080"/>
<circle cx="165.0" cy="403.8" r="1.95" fill="#000080"/>
<circle cx="159.6" cy="402.8" r="1.95" fill="#000080"/>
<circle cx="178.9" cy="403.5" r="1.95" fill="#000080"/>
<circle cx="170.0" cy="392.3" r="1.95" fill="#999999"/>
<circle cx="157.8" cy="396.4" r="1.95" fill="#000080"/>
<circle cx="177.1" cy="406.9" r="1.95" fill="#000080"/>
<circle cx="161.1" cy="406.9" r="1.95" fill="#000080"/>
<circle cx="161.5" cy="395.9" r="1.95" fill="#000080"/>
<circle cx="157.9" cy="406.9" r="1.95" fill="#000080"/>
<circle cx="157.4" cy="399.6" r="1.95" fill="#000080"/>
<circle cx="168.9" cy="398.9" r="1.95" fill="#000080"/>
<circle cx="179.6" cy="397.0" r="1.95" fill="#999999"/>
<circle cx="173.2" cy="386.7" r="1.95" fill="#000080"/>
<circle cx="166.6" cy="384.7" r="1.95" fill="#000080"/>
<circle cx="209.1" cy="402.1" r="1.95" fill="#000080"/>
<circle cx="233.0" cy="397.1" r="1.95" fill="#000080"/>
<circle cx="226.2" cy="403.6" r="1.95" fill="#000080"/>
<circle cx="206.1" cy="399.7" r="1.95" fill="#000080"/>
<circle cx="220.7" cy="397.2" r="1.95" fill="#000080"/>
<circle cx="234.1" cy="406.1" r="1.95" fill="#000080"/>
<circle cx="215.5" cy="395.3" r="1.95" fill="#000080"/>
<circle cx="215.2" cy="399.0" r="1.95" fill="#000080"/>
<circle cx="216.1" cy="402.2" r="1.95" fill="#000080"/>
<circle cx="228.5" cy="396.6" r="1.95" fill="#000080"/>
<circle cx="232.2" cy="393.3" r="1.95" fill="#000080"/>
<circle cx="215.8" cy="389.0" r="1.95" fill="#000080"/>
<circle cx="210.4" cy="396.9" r="1.95" fill="#000080"/>
<circle cx="219.7" cy="400.6" r="1.95" fill="#000080"/>
<circle cx="216.8" cy="406.8" r="1.95" fill="#000080"/>
<circle cx="223.6" cy="394.8" r="1.95" fill="#000080"/>
<circle cx="226.4" cy="406.9" r="1.95" fill="#000080"/>
<circle cx="225.1" cy="400.1" r="1.95" fill="#000080"/>
<circle cx="231.0" cy="401.9" r="1.95" fill="#000080"/>
<circle cx="222.4" cy="403.5" r="1.95" fill="#000080"/>
<circle cx="224.1" cy="386.8" r="1.95" fill="#000080"/>
<circle cx="212.3" cy="406.2" r="1.95" fill="#000080"/>
<circle cx="212.6" cy="401.8" r="1.95" fill="#000080"/>
<circle cx="234.5" cy="401.5" r="1.95" fill="#000080"/>
<circle cx="220.4" cy="393.1" r="1.95" fill="#000080"/>
<circle cx="230.1" cy="406.6" r="1.95" fill="#000080"/>
<circle cx="234.6" cy="391.1" r="1.95" fill="#000080"/>
<circle cx="208.3" cy="390.2" r="1.95" fill="#000080"/>
<circle cx="205.2" cy="402.8" r="1.95" fill="#000080"/>
<circle cx="222.0" cy="406.8" r="1.95" fill="#000080"/>
<circle cx="228.1" cy="400.3" r="1.95" fill="#000080"/>
<circle cx="227.1" cy="386.1" r="1.95" fill="#000080"/>
<circle cx="235.0" cy="394.7" r="1.95" fill="#000080"/>
<circle cx="259.1" cy="394.8" r="1.95" fill="#000080"/>
<circle cx="252.7" cy="391.8" r="1.95" fill="#000080"/>
<circle cx="266.9" cy="392.5" r="1.95" fill="#000080"/>
<circle cx="250.9" cy="394.4" r="1.95" fill="#000080"/>
<circle cx="243.7" cy="394.4" r="1.95" fill="#000080"/>
<circle cx="259.5" cy="388.4" r="1.95" fill="#000080"/>
<circle cx="270.4" cy="393.9" r="1.95" fill="#000080"/>
<circle cx="262.8" cy="394.9" r="1.95" fill="#000080"/>
<circle cx="255.9" cy="391.5" r="1.95" fill="#000080"/>
<circle cx="253.9" cy="396.0" r="1.95" fill="#000080"/>
<circle cx="265.3" cy="389.6" r="1.95" fill="#000080"/>
<circle cx="262.4" cy="390.3" r="1.95" fill="#000080"/>
<circle cx="274.9" cy="393.9" r="1.95" fill="#000080"/>
<circle cx="276.4" cy="388.1" r="1.95" fill="#000080"/>
<circle cx="270.2" cy="390.5" r="1.95" fill="#000080"/>
<circle cx="271.2" cy="387.4" r="1.95" fill="#000080"/>
<circle cx="247.4" cy="395.3" r="1.95" fill="#000080"/>
<circle cx="277.5" cy="395.8" r="1.95" fill="#000080"/>
<circle cx="240.2" cy="393.6" r="1.95" fill="#000080"/>
<circle cx="238.3" cy="391.9" r="1.95" fill="#000080"/>
<circle cx="244.3" cy="390.8" r="1.95" fill="#000080"/>
<circle cx="241.2" cy="390.9" r="1.95" fill="#000080"/>
<circle cx="280.6" cy="394.8" r="1.95" fill="#000080"/>
<circle cx="258.2" cy="390.5" r="1.95" fill="#000080"/>
<circle cx="256.1" cy="394.6" r="1.95" fill="#000080"/>
<circle cx="265.5" cy="395.9" r="1.95" fill="#000080"/>
<circle cx="252.0" cy="388.5" r="1.95" fill="#000080"/>
<circle cx="272.8" cy="392.6" r="1.95" fill="#000080"/>
<circle cx="268.1" cy="395.5" r="1.95" fill="#000080"/>
<circle cx="279.5" cy="391.4" r="1.95" fill="#000080"/>
<circle cx="261.4" cy="392.7" r="1.95" fill="#000080"/>
<circle cx="249.9" cy="390.5" r="1.95" fill="#000080"/>
<circle cx="285.0" cy="390.3" r="1.95" fill="#000080"/>
<circle cx="238.1" cy="388.1" r="1.95" fill="#000080"/>
<circle cx="264.4" cy="392.9" r="1.95" fill="#000080"/>
<circle cx="255.8" cy="405.3" r="1.95" fill="#999999"/>
<circle cx="242.3" cy="402.4" r="1.95" fill="#000080"/>
<circle cx="291.0" cy="403.4" r="1.95" fill="#000080"/>
<circle cx="245.9" cy="403.4" r="1.95" fill="#000080"/>
<circle cx="272.3" cy="403.9" r="1.95" fill="#999999"/>
<circle cx="237.9" cy="404.0" r="1.95" fill="#000080"/>
<circle cx="280.5" cy="405.0" r="1.95" fill="#000080"/>
<circle cx="262.5" cy="405.0" r="1.95" fill="#000080"/>
<circle cx="267.6" cy="402.1" r="1.95" fill="#000080"/>
<circle cx="275.8" cy="404.8" r="1.95" fill="#000080"/>
<circle cx="289.2" cy="405.4" r="1.95" fill="#000080"/>
<circle cx="285.2" cy="402.2" r="1.95" fill="#000080"/>
<circle cx="250.1" cy="402.7" r="1.95" fill="#000080"/>
<circle cx="264.0" cy="402.6" r="1.95" fill="#000080"/>
<circle cx="295.3" cy="402.8" r="1.95" fill="#000080"/>
<circle cx="275.2" cy="402.3" r="1.95" fill="#999999"/>
<circle cx="286.2" cy="404.6" r="1.95" fill="#000080"/>
<circle cx="252.4" cy="404.1" r="1.95" fill="#000080"/>
<circle cx="249.7" cy="405.3" r="1.95" fill="#000080"/>
<circle cx="279.6" cy="402.2" r="1.95" fill="#000080"/>
<circle cx="260.0" cy="404.2" r="1.95" fill="#000080"/>
<circle cx="282.2" cy="403.0" r="1.95" fill="#000080"/>
<circle cx="257.3" cy="403.1" r="1.95" fill="#000080"/>
<circle cx="288.1" cy="402.8" r="1.95" fill="#000080"/>
<circle cx="254.0" cy="402.1" r="1.95" fill="#000080"/>
<circle cx="295.9" cy="405.2" r="1.95" fill="#000080"/>
<circle cx="283.3" cy="405.3" r="1.95" fill="#000080"/>
<circle cx="300.7" cy="404.2" r="1.95" fill="#000080"/>
<circle cx="312.8" cy="393.2" r="1.95" fill="#000080"/>
<circle cx="307.4" cy="404.4" r="1.95" fill="#000080"/>
<circle cx="304.7" cy="402.7" r="1.95" fill="#000080"/>
<circle cx="312.8" cy="400.5" r="1.95" fill="#999999"/>
<circle cx="298.1" cy="403.0" r="1.95" fill="#000080"/>
<circle cx="312.9" cy="404.1" r="1.95" fill="#000080"/>
<circle cx="301.8" cy="401.1" r="1.95" fill="#000080"/>
<circle cx="303.9" cy="405.2" r="1.95" fill="#000080"/>
<circle cx="296.4" cy="397.7" r="1.95" fill="#000080"/>
<circle cx="303.2" cy="398.6" r="1.95" fill="#999999"/>
<circle cx="308.2" cy="396.6" r="1.95" fill="#000080"/>
<circle cx="313.8" cy="396.5" r="1.95" fill="#000080"/>
<circle cx="310.1" cy="405.0" r="1.95" fill="#000080"/>
<circle cx="301.5" cy="393.8" r="1.95" fill="#000080"/>
<circle cx="158.0" cy="312.2" r="2.0" fill="#ff0000"/>
<circle cx="156.4" cy="317.0" r="2.0" fill="#ffa500"/>
<circle cx="158.0" cy="317.0" r="2.0" fill="#ffa500"/>
<circle cx="163.6" cy="318.6" r="2.0" fill="#ff0000"/>
<circle cx="166.9" cy="319.8" r="2.0" fill="#ff0000"/>
<circle cx="170.1" cy="319.5" r="2.0" fill="#ff0000"/>
<circle cx="170.4" cy="322.1" r="2.0" fill="#ff0000"/>
<circle cx="178.0" cy="322.4" r="2.0" fill="#ff0000"/>
<circle cx="177.6" cy="328.3" r="2.0" fill="#ff0000"/>
<circle cx="201.1" cy="329.3" r="1.95" fill="#999999"/>
<circle cx="196.5" cy="348.8" r="1.95" fill="#999999"/>
<circle cx="193.8" cy="351.8" r="1.95" fill="#000080"/>
<circle cx="199.3" cy="353.8" r="1.95" fill="#999999"/>
<circle cx="196.5" cy="357.6" r="1.95" fill="#999999"/>
<circle cx="201.9" cy="359.9" r="1.95" fill="#000080"/>
<circle cx="191.2" cy="360.5" r="1.95" fill="#999999"/>
<circle cx="218.6" cy="359.0" r="1.95" fill="#999999"/>
<circle cx="166.3" cy="358.4" r="1.95" fill="#00e600"/>
<circle cx="163.7" cy="366.6" r="1.95" fill="#00e600"/>
<circle cx="157.5" cy="364.9" r="1.95" fill="#999999"/>
<circle cx="134.4" cy="362.6" r="1.95" fill="#000080"/>
<circle cx="135.6" cy="362.6" r="1.95" fill="#000080"/>
<circle cx="185.5" cy="362.4" r="1.95" fill="#000080"/>
<circle cx="312.5" cy="368.5" r="1.95" fill="#87cefa"/>
<circle cx="293.1" cy="380.8" r="1.95" fill="#999999"/>
<circle cx="313.6" cy="382.3" r="1.95" fill="#000080"/>
<circle cx="194.2" cy="366.3" r="1.95" fill="#000080"/>
<circle cx="197.3" cy="365.5" r="1.95" fill="#000080"/>
<circle cx="200.3" cy="366.0" r="1.95" fill="#000080"/>
<circle cx="187.4" cy="369.4" r="1.95" fill="#000080"/>
<circle cx="185.9" cy="370.9" r="1.95" fill="#000080"/>
<circle cx="192.7" cy="370.1" r="1.95" fill="#000080"/>
<circle cx="190.1" cy="368.6" r="1.95" fill="#87cefa"/>
<circle cx="203.1" cy="368.6" r="1.95" fill="#87cefa"/>
<circle cx="200.3" cy="372.1" r="1.95" fill="#87cefa"/>
<circle cx="206.1" cy="373.9" r="1.95" fill="#87cefa"/>
<circle cx="190.4" cy="374.2" r="1.95" fill="#87cefa"/>
<circle cx="187.4" cy="374.2" r="1.95" fill="#87cefa"/>
<circle cx="184.4" cy="375.7" r="1.95" fill="#87cefa"/>
<circle cx="182.1" cy="372.9" r="1.95" fill="#000080"/>
<circle cx="195.3" cy="377.0" r="1.95" fill="#87cefa"/>
<circle cx="201.1" cy="376.2" r="1.95" fill="#000080"/>
<circle cx="203.4" cy="376.2" r="1.95" fill="#000080"/>
<circle cx="200.8" cy="380.3" r="1.95" fill="#000080"/>
<circle cx="174.0" cy="379.7" r="1.95" fill="#999999"/>
<circle cx="173.4" cy="377.0" r="1.95" fill="#87cefa"/>
<circle cx="180.2" cy="381.1" r="1.95" fill="#87cefa"/>
<circle cx="190.1" cy="381.5" r="1.95" fill="#999999"/>
<circle cx="190.4" cy="385.3" r="1.95" fill="#999999"/>
<circle cx="186.3" cy="386.1" r="1.95" fill="#87cefa"/>
<circle cx="160.0" cy="377.0" r="1.95" fill="#000080"/>
<circle cx="159.3" cy="376.8" r="1.95" fill="#000080"/>
<circle cx="220.9" cy="367.8" r="1.95" fill="#000080"/>
<circle cx="226.2" cy="367.8" r="1.95" fill="#000080"/>
<circle cx="230.0" cy="369.0" r="1.95" fill="#000080"/>
<circle cx="227.0" cy="370.9" r="1.95" fill="#000080"/>
<circle cx="224.7" cy="373.2" r="1.95" fill="#000080"/>
<circle cx="221.6" cy="373.9" r="1.95" fill="#000080"/>
<circle cx="223.2" cy="372.1" r="1.95" fill="#000080"/>
<circle cx="223.6" cy="380.8" r="1.95" fill="#999999"/>
<circle cx="236.6" cy="364.5" r="1.95" fill="#000080"/>
<circle cx="236.3" cy="367.5" r="1.95" fill="#000080"/>
<circle cx="236.6" cy="370.5" r="1.95" fill="#000080"/>
<circle cx="236.9" cy="373.7" r="1.95" fill="#000080"/>
<circle cx="237.2" cy="377.2" r="1.95" fill="#000080"/>
<circle cx="236.9" cy="379.7" r="1.95" fill="#000080"/>
<circle cx="237.6" cy="382.3" r="1.95" fill="#000080"/>
<circle cx="207.2" cy="377.7" r="1.95" fill="#000080"/>
<circle cx="209.5" cy="379.2" r="1.95" fill="#000080"/>
<circle cx="211.8" cy="380.8" r="1.95" fill="#000080"/>
<circle cx="214.0" cy="381.5" r="1.95" fill="#000080"/>
<circle cx="216.3" cy="380.0" r="1.95" fill="#000080"/>
<circle cx="207.2" cy="383.0" r="1.95" fill="#000080"/>
<circle cx="210.2" cy="384.6" r="1.95" fill="#000080"/>
<circle cx="212.5" cy="384.9" r="1.95" fill="#000080"/>
<circle cx="217.1" cy="383.8" r="1.95" fill="#000080"/>
<circle cx="214.0" cy="386.1" r="1.95" fill="#000080"/>
<circle cx="212.5" cy="389.9" r="1.95" fill="#999999"/>
<circle cx="219.4" cy="387.9" r="1.95" fill="#87cefa"/>
<circle cx="222.4" cy="390.4" r="1.95" fill="#87cefa"/>
<circle cx="226.2" cy="389.1" r="1.95" fill="#87cefa"/>
<circle cx="231.2" cy="388.4" r="1.95" fill="#87cefa"/>
<circle cx="227.7" cy="392.2" r="1.95" fill="#87cefa"/>
<circle cx="217.1" cy="392.5" r="1.95" fill="#87cefa"/>
<circle cx="213.3" cy="391.9" r="1.95" fill="#87cefa"/>
<circle cx="208.7" cy="393.4" r="1.95" fill="#87cefa"/>
<circle cx="207.2" cy="394.0" r="1.95" fill="#87cefa"/>
<circle cx="196.5" cy="393.4" r="1.95" fill="#999999"/>
<circle cx="200.3" cy="395.2" r="1.95" fill="#000080"/>
<circle cx="203.4" cy="393.7" r="1.95" fill="#000080"/>
<circle cx="182.5" cy="372.8" r="1.95" fill="#000080"/>
<circle cx="186.1" cy="370.4" r="1.95" fill="#000080"/>
<circle cx="188.0" cy="368.5" r="1.95" fill="#000080"/>
<circle cx="184.3" cy="375.8" r="1.95" fill="#87cefa"/>
<circle cx="187.3" cy="374.6" r="1.95" fill="#87cefa"/>
<circle cx="189.2" cy="368.5" r="1.95" fill="#87cefa"/>
<circle cx="131.0" cy="378.9" r="1.95" fill="#999999"/>
<circle cx="131.9" cy="381.0" r="1.95" fill="#999999"/>
<circle cx="133.4" cy="385.0" r="1.95" fill="#00e600"/>
<circle cx="137.0" cy="381.3" r="1.95" fill="#000080"/>
<circle cx="154.5" cy="389.5" r="1.95" fill="#999999"/>
<circle cx="153.8" cy="383.1" r="1.95" fill="#000080"/>
<circle cx="156.3" cy="384.4" r="1.95" fill="#000080"/>
<circle cx="158.7" cy="385.6" r="1.95" fill="#000080"/>
<circle cx="162.4" cy="383.8" r="1.95" fill="#000080"/>
<circle cx="163.6" cy="386.2" r="1.95" fill="#000080"/>
<circle cx="158.1" cy="389.2" r="1.95" fill="#000080"/>
<circle cx="159.9" cy="392.3" r="1.95" fill="#000080"/>
<circle cx="155.7" cy="387.4" r="1.95" fill="#000080"/>
<circle cx="167.2" cy="389.2" r="1.95" fill="#000080"/>
<circle cx="170.9" cy="389.2" r="1.95" fill="#000080"/>
<circle cx="173.3" cy="389.8" r="1.95" fill="#000080"/>
<circle cx="176.4" cy="389.2" r="1.95" fill="#000080"/>
<circle cx="179.4" cy="389.8" r="1.95" fill="#000080"/>
<circle cx="183.1" cy="389.2" r="1.95" fill="#000080"/>
<circle cx="185.5" cy="390.4" r="1.95" fill="#000080"/>
<circle cx="167.2" cy="395.9" r="1.95" fill="#000080"/>
<circle cx="172.1" cy="396.5" r="1.95" fill="#000080"/>
<circle cx="174.6" cy="394.7" r="1.95" fill="#000080"/>
<circle cx="177.6" cy="394.1" r="1.95" fill="#000080"/>
<circle cx="187.3" cy="392.3" r="1.95" fill="#000080"/>
<circle cx="110.0" cy="383.8" r="1.95" fill="#000080"/>
<circle cx="114.3" cy="383.8" r="1.95" fill="#000080"/>
<circle cx="112.4" cy="386.2" r="1.95" fill="#000080"/>
<circle cx="117.3" cy="387.4" r="1.95" fill="#000080"/>
<circle cx="121.0" cy="388.0" r="1.95" fill="#000080"/>
<circle cx="123.4" cy="389.8" r="1.95" fill="#000080"/>
<circle cx="118.5" cy="390.4" r="1.95" fill="#000080"/>
<circle cx="114.9" cy="391.7" r="1.95" fill="#000080"/>
<circle cx="111.8" cy="392.9" r="1.95" fill="#000080"/>
<circle cx="122.2" cy="394.7" r="1.95" fill="#000080"/>
<circle cx="125.8" cy="395.9" r="1.95" fill="#000080"/>
<circle cx="128.9" cy="394.7" r="1.95" fill="#000080"/>
<circle cx="131.3" cy="391.7" r="1.95" fill="#000080"/>
<circle cx="134.4" cy="388.6" r="1.95" fill="#000080"/>
<circle cx="138.0" cy="389.2" r="1.95" fill="#000080"/>
<circle cx="131.9" cy="386.2" r="1.95" fill="#000080"/>
<circle cx="142.9" cy="389.8" r="1.95" fill="#000080"/>
<circle cx="146.5" cy="389.8" r="1.95" fill="#000080"/>
<circle cx="145.3" cy="392.9" r="1.95" fill="#000080"/>
<circle cx="142.3" cy="392.9" r="1.95" fill="#000080"/>
<circle cx="140.4" cy="396.5" r="1.95" fill="#000080"/>
<circle cx="143.5" cy="399.0" r="1.95" fill="#000080"/>
<circle cx="146.5" cy="400.2" r="1.95" fill="#000080"/>
<circle cx="150.2" cy="399.0" r="1.95" fill="#000080"/>
<circle cx="152.6" cy="401.4" r="1.95" fill="#000080"/>
<circle cx="135.0" cy="399.0" r="1.95" fill="#000080"/>
<circle cx="136.2" cy="395.9" r="1.95" fill="#000080"/>
<circle cx="117.9" cy="399.6" r="1.95" fill="#999999"/>
<circle cx="57.1" cy="386.1" r="1.95" fill="#000080"/>
<circle cx="76.4" cy="387.4" r="1.95" fill="#000080"/>
<circle cx="82.6" cy="386.8" r="1.95" fill="#000080"/>
<circle cx="80.7" cy="391.2" r="1.95" fill="#000080"/>
<circle cx="76.4" cy="392.7" r="1.95" fill="#000080"/>
<circle cx="51.1" cy="391.5" r="1.95" fill="#000080"/>
<circle cx="52.0" cy="393.7" r="1.95" fill="#000080"/>
<circle cx="45.0" cy="395.9" r="1.95" fill="#999999"/>
<circle cx="96.8" cy="393.2" r="1.95" fill="#000080"/>
<circle cx="27.4" cy="392.2" r="1.95" fill="#999999"/>
<circle cx="111.4" cy="384.2" r="1.95" fill="#000080"/>
<circle cx="115.1" cy="384.2" r="1.95" fill="#000080"/>
<circle cx="113.6" cy="386.4" r="1.95" fill="#000080"/>
<circle cx="107.0" cy="389.3" r="1.95" fill="#000080"/>
<circle cx="109.9" cy="389.7" r="1.95" fill="#000080"/>
<circle cx="116.5" cy="388.3" r="1.95" fill="#000080"/>
<circle cx="119.4" cy="390.0" r="1.95" fill="#000080"/>
<circle cx="122.4" cy="390.0" r="1.95" fill="#000080"/>
<circle cx="104.8" cy="393.7" r="1.95" fill="#000080"/>
<circle cx="108.5" cy="395.9" r="1.95" fill="#000080"/>
<circle cx="113.6" cy="393.2" r="1.95" fill="#000080"/>
<circle cx="117.2" cy="393.2" r="1.95" fill="#000080"/>
<circle cx="120.9" cy="394.4" r="1.95" fill="#000080"/>
<circle cx="117.7" cy="399.5" r="1.95" fill="#999999"/>
<circle cx="243.6" cy="386.6" r="1.95" fill="#000080"/>
<circle cx="247.2" cy="387.0" r="1.95" fill="#000080"/>
<circle cx="240.7" cy="388.4" r="1.95" fill="#000080"/>
<circle cx="256.5" cy="387.6" r="1.95" fill="#000080"/>
<circle cx="263.0" cy="387.0" r="1.95" fill="#000080"/>
<circle cx="268.0" cy="389.0" r="1.95" fill="#000080"/>
<circle cx="273.0" cy="389.9" r="1.95" fill="#000080"/>
<circle cx="280.2" cy="386.6" r="1.95" fill="#000080"/>
<circle cx="281.6" cy="389.4" r="1.95" fill="#000080"/>
<circle cx="276.6" cy="391.6" r="1.95" fill="#000080"/>
<circle cx="283.7" cy="392.7" r="1.95" fill="#000080"/>
<circle cx="256.5" cy="398.5" r="1.95" fill="#999999"/>
<circle cx="285.2" cy="399.5" r="1.95" fill="#999999"/>
<circle cx="298.1" cy="394.4" r="1.95" fill="#000080"/>
<circle cx="303.8" cy="395.2" r="1.95" fill="#000080"/>
<circle cx="308.1" cy="392.3" r="1.95" fill="#000080"/>
<circle cx="311.0" cy="395.9" r="1.95" fill="#000080"/>
<circle cx="301.0" cy="396.6" r="1.95" fill="#000080"/>
<circle cx="298.1" cy="400.2" r="1.95" fill="#999999"/>
<path d="M170.4,312.1L172.8,314.5L170.4,316.9L168.1,314.5Z" fill="#8c32dc"/>
</g>
<text x="170" y="310.4" text-anchor="middle" style="font-size:6px;fill:#111;stroke:#111;stroke-width:0.1px">rs2058019</text>
<line x1="26.4" y1="230.8" x2="314.5" y2="230.8" stroke="#dedede" stroke-width="1"/>
<line x1="26.4" y1="230.8" x2="26.4" y2="415.3" stroke="#b0b0b0" stroke-width="0.9"/>
<line x1="26.4" y1="415.3" x2="314.5" y2="415.3" stroke="#bcbcbc" stroke-width="0.9"/>
<line x1="314.5" y1="230.8" x2="314.5" y2="415.3" stroke="#c4c4c4" stroke-width="0.9"/>
<line x1="22.4" y1="407.3" x2="26.4" y2="407.3" stroke="#999" stroke-width="0.8"/>
<text x="19.4" y="409.5" text-anchor="end" class="t">0</text>
<line x1="22.4" y1="373.7" x2="26.4" y2="373.7" stroke="#999" stroke-width="0.8"/>
<text x="19.4" y="375.9" text-anchor="end" class="t">2</text>
<line x1="22.4" y1="340.1" x2="26.4" y2="340.1" stroke="#999" stroke-width="0.8"/>
<text x="19.4" y="342.3" text-anchor="end" class="t">4</text>
<line x1="22.4" y1="306.5" x2="26.4" y2="306.5" stroke="#999" stroke-width="0.8"/>
<text x="19.4" y="308.7" text-anchor="end" class="t">6</text>
<line x1="22.4" y1="272.9" x2="26.4" y2="272.9" stroke="#999" stroke-width="0.8"/>
<text x="19.4" y="275.1" text-anchor="end" class="t">8</text>
<line x1="22.4" y1="239.3" x2="26.4" y2="239.3" stroke="#999" stroke-width="0.8"/>
<text x="19.4" y="241.5" text-anchor="end" class="t">10</text>
<line x1="314.9" y1="407.3" x2="314.9" y2="239.3" stroke="#bcbcf0" stroke-width="1"/>
<line x1="314.5" y1="407.3" x2="318.5" y2="407.3" stroke="#88f" stroke-width="0.8"/>
<text x="322" y="409.1" class="tb">0</text>
<line x1="314.5" y1="373.7" x2="318.5" y2="373.7" stroke="#88f" stroke-width="0.8"/>
<text x="322" y="375.5" class="tb">20</text>
<line x1="314.5" y1="340.1" x2="318.5" y2="340.1" stroke="#88f" stroke-width="0.8"/>
<text x="322" y="341.9" class="tb">40</text>
<line x1="314.5" y1="306.5" x2="318.5" y2="306.5" stroke="#88f" stroke-width="0.8"/>
<text x="322" y="308.3" class="tb">60</text>
<line x1="314.5" y1="272.9" x2="318.5" y2="272.9" stroke="#88f" stroke-width="0.8"/>
<text x="322" y="274.7" class="tb">80</text>
<line x1="314.5" y1="239.3" x2="318.5" y2="239.3" stroke="#88f" stroke-width="0.8"/>
<text x="322" y="241.1" class="tb">100</text>
<text transform="translate(5.2,323.05) rotate(-90)" text-anchor="middle" class="t" style="font-size:6.0px">− log<tspan style="font-size:4.3px" dy="1.3">10</tspan><tspan dy="-1.3">(p−value)</tspan></text>
<text transform="translate(333.7,323.35) rotate(90)" text-anchor="middle" class="tb" style="font-size:6.0px;stroke-width:0">Recombination rate (cM/Mb)</text>
<rect x="26.4" y="422.7" width="288.1" height="11.7" fill="none" stroke="#ccc" stroke-width="0.9"/>
<line x1="79.3" y1="434.4" x2="295.6" y2="434.4" stroke="#8a8a8a" stroke-width="0.8"/>
<line x1="79.3" y1="434.4" x2="79.3" y2="438" stroke="#999" stroke-width="0.8"/>
<text x="79.3" y="447.9" text-anchor="middle" class="t">42.1</text>
<line x1="151.4" y1="434.4" x2="151.4" y2="438" stroke="#999" stroke-width="0.8"/>
<text x="151.4" y="447.9" text-anchor="middle" class="t">42.2</text>
<line x1="223.5" y1="434.4" x2="223.5" y2="438" stroke="#999" stroke-width="0.8"/>
<text x="223.5" y="447.9" text-anchor="middle" class="t">42.3</text>
<line x1="295.6" y1="434.4" x2="295.6" y2="438" stroke="#999" stroke-width="0.8"/>
<text x="295.6" y="447.9" text-anchor="middle" class="t">42.4</text>
<text x="170.45" y="456.2" text-anchor="middle" class="t" style="font-size:6.0px">Position on chr7 (Mb)</text>
<line x1="26.4" y1="431.1" x2="207.06" y2="431.1" stroke="#7575d8" stroke-width="0.8"/>
<rect x="53.05" y="430" width="1.6" height="2.2" fill="#3535b0"/>
<rect x="64.34" y="430" width="0.8" height="2.2" fill="#3535b0"/>
<rect x="67.8" y="430" width="0.8" height="2.2" fill="#3535b0"/>
<rect x="70.03" y="430" width="0.8" height="2.2" fill="#3535b0"/>
<rect x="91.01" y="430" width="0.8" height="2.2" fill="#3535b0"/>
<rect x="142.64" y="430" width="0.8" height="2.2" fill="#3535b0"/>
<rect x="196.35" y="430" width="0.8" height="2.2" fill="#3535b0"/>
<rect x="206.66" y="430" width="0.8" height="2.2" fill="#3535b0"/>
<path d="M97.8,426.8L100,425.7L100,427.9Z" fill="#222"/><line x1="99.8" y1="426.8" x2="103.4" y2="426.8" stroke="#333" stroke-width="0.6"/>
<text x="104" y="428.85" font-style="italic" textLength="10.9" lengthAdjust="spacingAndGlyphs" style="font-size:5.7px;fill:#222">GLI3</text>
<rect x="29.4" y="233.8" width="23.6" height="57" fill="#fff" stroke="#999" stroke-width="0.8"/>
<rect x="32.8" y="243.9" width="5.8" height="8.85" fill="#ff0000"/>
<rect x="32.8" y="252.75" width="5.8" height="8.85" fill="#ffa500"/>
<rect x="32.8" y="261.6" width="5.8" height="8.85" fill="#00ee00"/>
<rect x="32.8" y="270.45" width="5.8" height="8.85" fill="#87cefa"/>
<rect x="32.8" y="279.3" width="5.8" height="8.85" fill="#000080"/>
<line x1="38.6" y1="252.75" x2="41.4" y2="252.75" stroke="#777" stroke-width="0.6"/>
<text x="43.2" y="255.25" class="ts">0.8</text>
<line x1="38.6" y1="261.6" x2="41.4" y2="261.6" stroke="#777" stroke-width="0.6"/>
<text x="43.2" y="264.1" class="ts">0.6</text>
<line x1="38.6" y1="270.45" x2="41.4" y2="270.45" stroke="#777" stroke-width="0.6"/>
<text x="43.2" y="272.95" class="ts">0.4</text>
<line x1="38.6" y1="279.3" x2="41.4" y2="279.3" stroke="#777" stroke-width="0.6"/>
<text x="43.2" y="281.8" class="ts">0.2</text>
<text x="39.4" y="242" style="font-size:7px;fill:#222">r<tspan style="font-size:4.6px" dy="-2.8">2</tspan></text>
<text x="295" y="243.5" text-anchor="middle" class="L" style="font-size:14px">c</text>
<polyline points="369.5,407.0 371.5,407.0 371.8,300.6 372.8,300.6 373.1,407.0 418.0,407.0 418.2,389.3 418.6,389.3 418.8,407.0 439.9,407.0 440.1,392.2 440.5,392.2 440.7,407.0 459.3,407.0 459.5,391.0 459.9,391.0 460.1,407.0 464.4,407.0 464.6,379.9 465.0,379.9 465.2,406.5 521.9,406.5 522.1,380.4 522.6,380.4 522.8,405.0 527.0,407.3 559.0,407.3 562.0,404.0 579.0,404.0 579.2,298.5 580.1,298.5 580.4,407.5 657.0,407.5" fill="none" stroke="#4a4aff" stroke-width="0.9"/>
<g stroke="#2a2a2a" stroke-width="0.75">
<circle cx="378.3" cy="401.4" r="1.95" fill="#000080"/>
<circle cx="414.7" cy="404.4" r="1.95" fill="#000080"/>
<circle cx="412.4" cy="401.2" r="1.95" fill="#000080"/>
<circle cx="416.4" cy="402.3" r="1.95" fill="#000080"/>
<circle cx="374.5" cy="401.4" r="1.95" fill="#999999"/>
<circle cx="372.6" cy="407.1" r="1.95" fill="#000080"/>
<circle cx="424.9" cy="400.0" r="1.95" fill="#000080"/>
<circle cx="387.8" cy="405.1" r="1.95" fill="#000080"/>
<circle cx="406.3" cy="407.5" r="1.95" fill="#000080"/>
<circle cx="382.1" cy="407.4" r="1.95" fill="#000080"/>
<circle cx="402.1" cy="406.7" r="1.95" fill="#000080"/>
<circle cx="395.9" cy="403.6" r="1.95" fill="#000080"/>
<circle cx="422.3" cy="397.5" r="1.95" fill="#000080"/>
<circle cx="405.2" cy="404.5" r="1.95" fill="#000080"/>
<circle cx="419.5" cy="400.3" r="1.95" fill="#000080"/>
<circle cx="397.9" cy="405.1" r="1.95" fill="#000080"/>
<circle cx="417.2" cy="406.6" r="1.95" fill="#000080"/>
<circle cx="411.4" cy="405.1" r="1.95" fill="#000080"/>
<circle cx="399.7" cy="401.9" r="1.95" fill="#000080"/>
<circle cx="409.1" cy="406.2" r="1.95" fill="#000080"/>
<circle cx="379.4" cy="405.0" r="1.95" fill="#000080"/>
<circle cx="408.2" cy="401.7" r="1.95" fill="#000080"/>
<circle cx="393.2" cy="402.4" r="1.95" fill="#000080"/>
<circle cx="393.8" cy="407.1" r="1.95" fill="#000080"/>
<circle cx="427.5" cy="402.6" r="1.95" fill="#000080"/>
<circle cx="390.3" cy="404.0" r="1.95" fill="#000080"/>
<circle cx="371.1" cy="403.3" r="1.95" fill="#000080"/>
<circle cx="426.0" cy="397.7" r="1.95" fill="#000080"/>
<circle cx="376.6" cy="406.9" r="1.95" fill="#000080"/>
<circle cx="419.4" cy="403.0" r="1.95" fill="#000080"/>
<circle cx="425.8" cy="405.1" r="1.95" fill="#000080"/>
<circle cx="385.4" cy="403.9" r="1.95" fill="#000080"/>
<circle cx="398.8" cy="407.8" r="1.95" fill="#000080"/>
<circle cx="423.3" cy="404.8" r="1.95" fill="#000080"/>
<circle cx="404.5" cy="401.7" r="1.95" fill="#000080"/>
<circle cx="411.2" cy="407.8" r="1.95" fill="#000080"/>
<circle cx="381.3" cy="401.3" r="1.95" fill="#000080"/>
<circle cx="387.8" cy="402.2" r="1.95" fill="#000080"/>
<circle cx="428.0" cy="399.4" r="1.95" fill="#000080"/>
<circle cx="385.9" cy="407.9" r="1.95" fill="#000080"/>
<circle cx="369.8" cy="405.6" r="1.95" fill="#000080"/>
<circle cx="421.9" cy="407.6" r="1.95" fill="#000080"/>
<circle cx="391.2" cy="406.6" r="1.95" fill="#000080"/>
<circle cx="395.6" cy="401.1" r="1.95" fill="#999999"/>
<circle cx="384.1" cy="401.3" r="1.95" fill="#000080"/>
<circle cx="414.3" cy="407.5" r="1.95" fill="#000080"/>
<circle cx="390.1" cy="401.3" r="1.95" fill="#000080"/>
<circle cx="401.0" cy="404.5" r="1.95" fill="#000080"/>
<circle cx="382.6" cy="404.9" r="1.95" fill="#000080"/>
<circle cx="376.2" cy="403.8" r="1.95" fill="#000080"/>
<circle cx="424.8" cy="407.4" r="1.95" fill="#000080"/>
<circle cx="422.3" cy="402.2" r="1.95" fill="#000080"/>
<circle cx="427.3" cy="407.6" r="1.95" fill="#000080"/>
<circle cx="373.6" cy="404.1" r="1.95" fill="#000080"/>
<circle cx="379.5" cy="407.7" r="1.95" fill="#000080"/>
<circle cx="388.7" cy="407.6" r="1.95" fill="#000080"/>
<circle cx="442.8" cy="398.6" r="1.95" fill="#000080"/>
<circle cx="444.3" cy="405.5" r="1.95" fill="#000080"/>
<circle cx="463.6" cy="400.2" r="1.95" fill="#000080"/>
<circle cx="439.7" cy="398.5" r="1.95" fill="#000080"/>
<circle cx="432.3" cy="405.8" r="1.95" fill="#000080"/>
<circle cx="434.8" cy="401.3" r="1.95" fill="#000080"/>
<circle cx="456.3" cy="397.0" r="1.95" fill="#000080"/>
<circle cx="471.8" cy="396.4" r="1.95" fill="#000080"/>
<circle cx="466.6" cy="398.8" r="1.95" fill="#000080"/>
<circle cx="447.1" cy="402.6" r="1.95" fill="#000080"/>
<circle cx="464.8" cy="407.3" r="1.95" fill="#000080"/>
<circle cx="450.5" cy="405.0" r="1.95" fill="#000080"/>
<circle cx="453.3" cy="399.2" r="1.95" fill="#000080"/>
<circle cx="461.1" cy="396.2" r="1.95" fill="#999999"/>
<circle cx="448.8" cy="397.0" r="1.95" fill="#000080"/>
<circle cx="441.6" cy="405.2" r="1.95" fill="#000080"/>
<circle cx="476.3" cy="406.6" r="1.95" fill="#000080"/>
<circle cx="453.3" cy="405.6" r="1.95" fill="#000080"/>
<circle cx="459.7" cy="407.2" r="1.95" fill="#000080"/>
<circle cx="449.3" cy="400.9" r="1.95" fill="#000080"/>
<circle cx="453.5" cy="401.9" r="1.95" fill="#000080"/>
<circle cx="467.1" cy="406.1" r="1.95" fill="#999999"/>
<circle cx="470.2" cy="400.7" r="1.95" fill="#000080"/>
<circle cx="460.0" cy="401.8" r="1.95" fill="#000080"/>
<circle cx="442.6" cy="402.4" r="1.95" fill="#000080"/>
<circle cx="456.0" cy="407.2" r="1.95" fill="#000080"/>
<circle cx="436.4" cy="396.9" r="1.95" fill="#000080"/>
<circle cx="471.6" cy="407.7" r="1.95" fill="#000080"/>
<circle cx="434.9" cy="404.9" r="1.95" fill="#000080"/>
<circle cx="432.4" cy="402.8" r="1.95" fill="#000080"/>
<circle cx="430.9" cy="399.3" r="1.95" fill="#999999"/>
<circle cx="457.5" cy="404.7" r="1.95" fill="#000080"/>
<circle cx="438.6" cy="403.1" r="1.95" fill="#000080"/>
<circle cx="429.8" cy="406.9" r="1.95" fill="#000080"/>
<circle cx="459.2" cy="398.5" r="1.95" fill="#999999"/>
<circle cx="477.9" cy="397.2" r="1.95" fill="#000080"/>
<circle cx="449.1" cy="407.5" r="1.95" fill="#000080"/>
<circle cx="461.5" cy="405.3" r="1.95" fill="#000080"/>
<circle cx="478.4" cy="401.2" r="1.95" fill="#000080"/>
<circle cx="439.4" cy="406.9" r="1.95" fill="#000080"/>
<circle cx="475.2" cy="397.4" r="1.95" fill="#000080"/>
<circle cx="446.5" cy="407.2" r="1.95" fill="#000080"/>
<circle cx="447.0" cy="399.3" r="1.95" fill="#000080"/>
<circle cx="467.3" cy="403.2" r="1.95" fill="#000080"/>
<circle cx="479.4" cy="407.6" r="1.95" fill="#000080"/>
<circle cx="464.3" cy="403.5" r="1.95" fill="#000080"/>
<circle cx="470.3" cy="403.7" r="1.95" fill="#000080"/>
<circle cx="463.6" cy="397.4" r="1.95" fill="#000080"/>
<circle cx="445.1" cy="396.9" r="1.95" fill="#000080"/>
<circle cx="468.0" cy="396.6" r="1.95" fill="#000080"/>
<circle cx="455.7" cy="400.4" r="1.95" fill="#000080"/>
<circle cx="480.0" cy="398.9" r="1.95" fill="#000080"/>
<circle cx="444.7" cy="400.4" r="1.95" fill="#000080"/>
<circle cx="437.3" cy="400.2" r="1.95" fill="#000080"/>
<circle cx="451.7" cy="407.7" r="1.95" fill="#000080"/>
<circle cx="441.3" cy="396.4" r="1.95" fill="#000080"/>
<circle cx="436.7" cy="406.7" r="1.95" fill="#000080"/>
<circle cx="452.1" cy="396.8" r="1.95" fill="#000080"/>
<circle cx="441.9" cy="407.9" r="1.95" fill="#000080"/>
<circle cx="433.8" cy="398.6" r="1.95" fill="#000080"/>
<circle cx="462.3" cy="407.7" r="1.95" fill="#999999"/>
<circle cx="496.6" cy="396.9" r="1.95" fill="#000080"/>
<circle cx="495.6" cy="400.2" r="1.95" fill="#000080"/>
<circle cx="514.3" cy="397.2" r="1.95" fill="#000080"/>
<circle cx="489.8" cy="394.8" r="1.95" fill="#000080"/>
<circle cx="496.7" cy="405.9" r="1.95" fill="#000080"/>
<circle cx="512.1" cy="405.0" r="1.95" fill="#000080"/>
<circle cx="505.2" cy="398.6" r="1.95" fill="#000080"/>
<circle cx="492.4" cy="406.6" r="1.95" fill="#000080"/>
<circle cx="485.1" cy="397.4" r="1.95" fill="#000080"/>
<circle cx="510.1" cy="393.9" r="1.95" fill="#000080"/>
<circle cx="487.0" cy="400.9" r="1.95" fill="#000080"/>
<circle cx="485.0" cy="406.5" r="1.95" fill="#000080"/>
<circle cx="501.0" cy="403.6" r="1.95" fill="#000080"/>
<circle cx="492.2" cy="402.4" r="1.95" fill="#000080"/>
<circle cx="482.4" cy="389.7" r="1.95" fill="#000080"/>
<circle cx="511.9" cy="387.0" r="1.95" fill="#000080"/>
<circle cx="507.2" cy="403.5" r="1.95" fill="#000080"/>
<circle cx="482.4" cy="402.2" r="1.95" fill="#000080"/>
<circle cx="518.7" cy="389.3" r="1.95" fill="#000080"/>
<circle cx="487.7" cy="391.2" r="1.95" fill="#000080"/>
<circle cx="504.1" cy="407.2" r="1.95" fill="#000080"/>
<circle cx="516.0" cy="406.2" r="1.95" fill="#000080"/>
<circle cx="508.0" cy="407.9" r="1.95" fill="#000080"/>
<circle cx="509.6" cy="400.2" r="1.95" fill="#000080"/>
<circle cx="518.8" cy="402.6" r="1.95" fill="#000080"/>
<circle cx="504.8" cy="395.0" r="1.95" fill="#000080"/>
<circle cx="505.6" cy="386.1" r="1.95" fill="#000080"/>
<circle cx="520.9" cy="406.0" r="1.95" fill="#000080"/>
<circle cx="480.6" cy="386.4" r="1.95" fill="#000080"/>
<circle cx="492.8" cy="397.7" r="1.95" fill="#000080"/>
<circle cx="489.0" cy="406.3" r="1.95" fill="#000080"/>
<circle cx="496.4" cy="385.0" r="1.95" fill="#000080"/>
<circle cx="501.3" cy="396.5" r="1.95" fill="#000080"/>
<circle cx="516.9" cy="399.7" r="1.95" fill="#000080"/>
<circle cx="490.3" cy="388.2" r="1.95" fill="#000080"/>
<circle cx="515.3" cy="387.7" r="1.95" fill="#000080"/>
<circle cx="499.6" cy="399.6" r="1.95" fill="#000080"/>
<circle cx="514.6" cy="402.6" r="1.95" fill="#000080"/>
<circle cx="500.4" cy="407.1" r="1.95" fill="#000080"/>
<circle cx="489.0" cy="398.2" r="1.95" fill="#000080"/>
<circle cx="571.4" cy="400.6" r="1.95" fill="#000080"/>
<circle cx="568.2" cy="397.6" r="1.95" fill="#000080"/>
<circle cx="578.0" cy="404.4" r="1.95" fill="#000080"/>
<circle cx="579.1" cy="395.6" r="1.95" fill="#000080"/>
<circle cx="564.1" cy="394.0" r="1.95" fill="#000080"/>
<circle cx="582.8" cy="405.9" r="1.95" fill="#000080"/>
<circle cx="569.1" cy="402.4" r="1.95" fill="#000080"/>
<circle cx="572.1" cy="407.7" r="1.95" fill="#000080"/>
<circle cx="565.5" cy="404.3" r="1.95" fill="#000080"/>
<circle cx="566.0" cy="399.5" r="1.95" fill="#999999"/>
<circle cx="574.8" cy="407.8" r="1.95" fill="#000080"/>
<circle cx="574.1" cy="393.3" r="1.95" fill="#000080"/>
<circle cx="559.0" cy="403.4" r="1.95" fill="#000080"/>
<circle cx="571.7" cy="404.5" r="1.95" fill="#000080"/>
<circle cx="561.4" cy="404.3" r="1.95" fill="#000080"/>
<circle cx="566.7" cy="407.8" r="1.95" fill="#000080"/>
<circle cx="575.5" cy="402.1" r="1.95" fill="#000080"/>
<circle cx="581.6" cy="393.6" r="1.95" fill="#000080"/>
<circle cx="582.8" cy="401.5" r="1.95" fill="#000080"/>
<circle cx="558.4" cy="396.4" r="1.95" fill="#999999"/>
<circle cx="571.3" cy="395.0" r="1.95" fill="#000080"/>
<circle cx="579.1" cy="392.8" r="1.95" fill="#000080"/>
<circle cx="575.1" cy="398.6" r="1.95" fill="#000080"/>
<circle cx="572.1" cy="397.7" r="1.95" fill="#000080"/>
<circle cx="566.9" cy="394.6" r="1.95" fill="#000080"/>
<circle cx="582.8" cy="399.0" r="1.95" fill="#000080"/>
<circle cx="579.7" cy="398.7" r="1.95" fill="#000080"/>
<circle cx="578.0" cy="407.4" r="1.95" fill="#000080"/>
<circle cx="559.8" cy="406.3" r="1.95" fill="#000080"/>
<circle cx="568.8" cy="406.3" r="1.95" fill="#000080"/>
<circle cx="570.2" cy="392.5" r="1.95" fill="#000080"/>
<circle cx="575.3" cy="404.8" r="1.95" fill="#000080"/>
<circle cx="580.5" cy="404.6" r="1.95" fill="#000080"/>
<circle cx="576.3" cy="395.6" r="1.95" fill="#000080"/>
<circle cx="565.0" cy="396.5" r="1.95" fill="#000080"/>
<circle cx="578.8" cy="401.9" r="1.95" fill="#000080"/>
<circle cx="564.3" cy="406.8" r="1.95" fill="#000080"/>
<circle cx="560.2" cy="394.6" r="1.95" fill="#000080"/>
<circle cx="563.2" cy="399.0" r="1.95" fill="#000080"/>
<circle cx="582.1" cy="396.1" r="1.95" fill="#000080"/>
<circle cx="576.5" cy="392.6" r="1.95" fill="#000080"/>
<circle cx="580.7" cy="407.8" r="1.95" fill="#000080"/>
<circle cx="605.5" cy="394.8" r="1.95" fill="#000080"/>
<circle cx="612.6" cy="388.2" r="1.95" fill="#000080"/>
<circle cx="599.5" cy="394.8" r="1.95" fill="#000080"/>
<circle cx="623.6" cy="391.9" r="1.95" fill="#000080"/>
<circle cx="608.7" cy="387.8" r="1.95" fill="#000080"/>
<circle cx="589.9" cy="394.9" r="1.95" fill="#000080"/>
<circle cx="596.7" cy="386.3" r="1.95" fill="#000080"/>
<circle cx="603.3" cy="387.8" r="1.95" fill="#000080"/>
<circle cx="595.5" cy="395.0" r="1.95" fill="#000080"/>
<circle cx="620.0" cy="388.5" r="1.95" fill="#000080"/>
<circle cx="586.6" cy="394.9" r="1.95" fill="#000080"/>
<circle cx="602.6" cy="405.5" r="1.95" fill="#000080"/>
<circle cx="595.0" cy="402.9" r="1.95" fill="#999999"/>
<circle cx="646.7" cy="404.3" r="1.95" fill="#000080"/>
<circle cx="610.7" cy="401.6" r="1.95" fill="#000080"/>
<circle cx="641.6" cy="406.4" r="1.95" fill="#000080"/>
<circle cx="635.9" cy="404.1" r="1.95" fill="#000080"/>
<circle cx="626.0" cy="403.5" r="1.95" fill="#000080"/>
<circle cx="608.4" cy="407.8" r="1.95" fill="#000080"/>
<circle cx="588.4" cy="401.2" r="1.95" fill="#000080"/>
<circle cx="585.2" cy="407.7" r="1.95" fill="#000080"/>
<circle cx="648.2" cy="400.3" r="1.95" fill="#000080"/>
<circle cx="657.0" cy="402.2" r="1.95" fill="#000080"/>
<circle cx="592.0" cy="403.4" r="1.95" fill="#999999"/>
<circle cx="642.7" cy="400.9" r="1.95" fill="#000080"/>
<circle cx="616.9" cy="404.0" r="1.95" fill="#000080"/>
<circle cx="632.7" cy="406.4" r="1.95" fill="#000080"/>
<circle cx="654.3" cy="404.2" r="1.95" fill="#000080"/>
<circle cx="614.5" cy="402.7" r="1.95" fill="#000080"/>
<circle cx="608.6" cy="404.1" r="1.95" fill="#000080"/>
<circle cx="656.9" cy="407.6" r="1.95" fill="#000080"/>
<circle cx="598.0" cy="406.3" r="1.95" fill="#000080"/>
<circle cx="601.4" cy="401.0" r="1.95" fill="#000080"/>
<circle cx="633.2" cy="402.3" r="1.95" fill="#000080"/>
<circle cx="638.5" cy="405.5" r="1.95" fill="#000080"/>
<circle cx="620.1" cy="406.6" r="1.95" fill="#000080"/>
<circle cx="643.8" cy="404.4" r="1.95" fill="#000080"/>
<circle cx="604.7" cy="402.9" r="1.95" fill="#000080"/>
<circle cx="622.3" cy="401.4" r="1.95" fill="#000080"/>
<circle cx="626.5" cy="407.6" r="1.95" fill="#000080"/>
<circle cx="649.4" cy="403.2" r="1.95" fill="#000080"/>
<circle cx="622.7" cy="405.7" r="1.95" fill="#000080"/>
<circle cx="629.8" cy="405.9" r="1.95" fill="#000080"/>
<circle cx="595.1" cy="407.0" r="1.95" fill="#000080"/>
<circle cx="620.7" cy="404.0" r="1.95" fill="#000080"/>
<circle cx="654.2" cy="407.1" r="1.95" fill="#000080"/>
<circle cx="611.4" cy="404.1" r="1.95" fill="#000080"/>
<circle cx="599.4" cy="403.0" r="1.95" fill="#000080"/>
<circle cx="651.7" cy="406.3" r="1.95" fill="#000080"/>
<circle cx="589.4" cy="407.2" r="1.95" fill="#000080"/>
<circle cx="628.7" cy="403.5" r="1.95" fill="#000080"/>
<circle cx="586.5" cy="403.6" r="1.95" fill="#000080"/>
<circle cx="645.3" cy="407.1" r="1.95" fill="#000080"/>
<circle cx="616.2" cy="407.6" r="1.95" fill="#000080"/>
<circle cx="653.0" cy="401.5" r="1.95" fill="#000080"/>
<circle cx="613.7" cy="405.5" r="1.95" fill="#000080"/>
<circle cx="589.1" cy="403.7" r="1.95" fill="#000080"/>
<circle cx="618.3" cy="401.4" r="1.95" fill="#000080"/>
<circle cx="604.9" cy="407.2" r="1.95" fill="#000080"/>
<circle cx="636.8" cy="407.8" r="1.95" fill="#000080"/>
<circle cx="592.0" cy="407.8" r="1.95" fill="#000080"/>
<circle cx="656.7" cy="399.4" r="1.95" fill="#000080"/>
<circle cx="639.1" cy="402.8" r="1.95" fill="#000080"/>
<circle cx="600.9" cy="407.7" r="1.95" fill="#000080"/>
<circle cx="607.5" cy="401.5" r="1.95" fill="#000080"/>
<circle cx="629.5" cy="401.1" r="1.95" fill="#000080"/>
<circle cx="624.9" cy="401.1" r="1.95" fill="#000080"/>
<circle cx="611.6" cy="407.2" r="1.95" fill="#000080"/>
<circle cx="645.5" cy="401.6" r="1.95" fill="#000080"/>
<path d="M513.0,266.2L515.4,268.6L513.0,271.0L510.6,268.6Z" fill="#8c32dc"/>
<circle cx="506.1" cy="278.7" r="2.0" fill="#ff0000"/>
<circle cx="509.6" cy="281.3" r="2.0" fill="#ff0000"/>
<circle cx="512.7" cy="281.3" r="2.0" fill="#ff0000"/>
<circle cx="513.0" cy="285.1" r="2.0" fill="#ffa500"/>
<circle cx="520.9" cy="286.2" r="2.0" fill="#ff0000"/>
<circle cx="520.0" cy="293.5" r="2.0" fill="#ff0000"/>
<circle cx="500.9" cy="300.4" r="2.0" fill="#ffa500"/>
<circle cx="498.8" cy="322.7" r="2.0" fill="#ffa500"/>
<circle cx="500.5" cy="323.9" r="2.0" fill="#ffa500"/>
<circle cx="508.9" cy="346.6" r="1.95" fill="#000080"/>
<circle cx="535.1" cy="358.4" r="1.95" fill="#87cefa"/>
<circle cx="506.2" cy="362.6" r="1.95" fill="#000080"/>
<circle cx="502.5" cy="373.6" r="1.95" fill="#000080"/>
<circle cx="532.5" cy="364.9" r="1.95" fill="#000080"/>
<circle cx="537.1" cy="364.9" r="1.95" fill="#000080"/>
<circle cx="539.4" cy="368.4" r="1.95" fill="#999999"/>
<circle cx="543.2" cy="365.4" r="1.95" fill="#000080"/>
<circle cx="545.4" cy="361.1" r="1.95" fill="#000080"/>
<circle cx="549.3" cy="359.3" r="1.95" fill="#000080"/>
<circle cx="552.3" cy="354.2" r="1.95" fill="#000080"/>
<circle cx="556.1" cy="354.2" r="1.95" fill="#000080"/>
<circle cx="559.9" cy="355.0" r="1.95" fill="#000080"/>
<circle cx="563.4" cy="353.8" r="1.95" fill="#000080"/>
<circle cx="566.0" cy="352.0" r="1.95" fill="#000080"/>
<circle cx="569.5" cy="348.6" r="1.95" fill="#000080"/>
<circle cx="569.8" cy="352.0" r="1.95" fill="#000080"/>
<circle cx="553.1" cy="357.3" r="1.95" fill="#000080"/>
<circle cx="556.1" cy="357.3" r="1.95" fill="#000080"/>
<circle cx="559.9" cy="357.7" r="1.95" fill="#000080"/>
<circle cx="563.7" cy="356.5" r="1.95" fill="#000080"/>
<circle cx="550.0" cy="364.1" r="1.95" fill="#000080"/>
<circle cx="555.3" cy="363.4" r="1.95" fill="#000080"/>
<circle cx="559.1" cy="364.1" r="1.95" fill="#000080"/>
<circle cx="562.2" cy="364.1" r="1.95" fill="#000080"/>
<circle cx="566.8" cy="364.1" r="1.95" fill="#000080"/>
<circle cx="572.8" cy="357.3" r="1.95" fill="#000080"/>
<circle cx="578.2" cy="345.9" r="1.95" fill="#000080"/>
<circle cx="578.6" cy="353.5" r="1.95" fill="#000080"/>
<circle cx="577.4" cy="364.1" r="1.95" fill="#000080"/>
<circle cx="578.9" cy="368.7" r="1.95" fill="#000080"/>
<circle cx="575.1" cy="368.4" r="1.95" fill="#999999"/>
<circle cx="551.5" cy="369.5" r="1.95" fill="#000080"/>
<circle cx="559.9" cy="369.5" r="1.95" fill="#000080"/>
<circle cx="566.5" cy="368.7" r="1.95" fill="#000080"/>
<circle cx="569.0" cy="368.7" r="1.95" fill="#000080"/>
<circle cx="559.1" cy="371.8" r="1.95" fill="#000080"/>
<circle cx="567.5" cy="372.5" r="1.95" fill="#000080"/>
<circle cx="571.3" cy="375.6" r="1.95" fill="#000080"/>
<circle cx="574.4" cy="375.6" r="1.95" fill="#000080"/>
<circle cx="544.7" cy="372.5" r="1.95" fill="#000080"/>
<circle cx="550.0" cy="373.6" r="1.95" fill="#000080"/>
<circle cx="550.0" cy="379.4" r="1.95" fill="#000080"/>
<circle cx="566.0" cy="380.9" r="1.95" fill="#000080"/>
<circle cx="537.8" cy="373.0" r="1.95" fill="#000080"/>
<circle cx="532.5" cy="372.5" r="1.95" fill="#000080"/>
<circle cx="528.7" cy="374.5" r="1.95" fill="#000080"/>
<circle cx="523.4" cy="377.1" r="1.95" fill="#000080"/>
<circle cx="527.2" cy="377.5" r="1.95" fill="#000080"/>
<circle cx="515.8" cy="378.6" r="1.95" fill="#000080"/>
<circle cx="511.2" cy="380.9" r="1.95" fill="#000080"/>
<circle cx="507.4" cy="379.4" r="1.95" fill="#000080"/>
<circle cx="502.1" cy="380.9" r="1.95" fill="#000080"/>
<circle cx="499.8" cy="387.0" r="1.95" fill="#000080"/>
<circle cx="493.7" cy="387.7" r="1.95" fill="#000080"/>
<circle cx="489.1" cy="382.4" r="1.95" fill="#000080"/>
<circle cx="483.0" cy="381.6" r="1.95" fill="#000080"/>
<circle cx="486.1" cy="383.2" r="1.95" fill="#000080"/>
<circle cx="530.2" cy="381.6" r="1.95" fill="#000080"/>
<circle cx="534.0" cy="380.9" r="1.95" fill="#000080"/>
<circle cx="537.1" cy="381.6" r="1.95" fill="#000080"/>
<circle cx="540.1" cy="381.2" r="1.95" fill="#000080"/>
<circle cx="543.2" cy="379.4" r="1.95" fill="#000080"/>
<circle cx="542.4" cy="381.6" r="1.95" fill="#000080"/>
<circle cx="533.0" cy="385.1" r="1.95" fill="#999999"/>
<circle cx="529.9" cy="387.7" r="1.95" fill="#999999"/>
<circle cx="522.6" cy="389.3" r="1.95" fill="#999999"/>
<circle cx="525.7" cy="386.2" r="1.95" fill="#000080"/>
<circle cx="543.2" cy="387.0" r="1.95" fill="#000080"/>
<circle cx="546.2" cy="388.5" r="1.95" fill="#000080"/>
<circle cx="579.0" cy="353.8" r="1.95" fill="#000080"/>
<circle cx="579.8" cy="360.8" r="1.95" fill="#000080"/>
<circle cx="576.7" cy="364.1" r="1.95" fill="#000080"/>
<circle cx="579.0" cy="367.2" r="1.95" fill="#000080"/>
<circle cx="580.5" cy="370.5" r="1.95" fill="#000080"/>
<circle cx="579.5" cy="376.3" r="1.95" fill="#000080"/>
<circle cx="569.1" cy="348.2" r="1.95" fill="#000080"/>
<circle cx="566.8" cy="352.0" r="1.95" fill="#000080"/>
<circle cx="563.8" cy="352.7" r="1.95" fill="#000080"/>
<circle cx="560.8" cy="354.2" r="1.95" fill="#000080"/>
<circle cx="560.0" cy="357.3" r="1.95" fill="#000080"/>
<circle cx="569.1" cy="352.0" r="1.95" fill="#000080"/>
<circle cx="572.9" cy="357.3" r="1.95" fill="#000080"/>
<circle cx="562.3" cy="364.1" r="1.95" fill="#000080"/>
<circle cx="566.8" cy="364.1" r="1.95" fill="#000080"/>
<circle cx="566.1" cy="368.7" r="1.95" fill="#000080"/>
<circle cx="569.1" cy="368.7" r="1.95" fill="#000080"/>
<circle cx="566.8" cy="371.8" r="1.95" fill="#000080"/>
<circle cx="560.8" cy="368.7" r="1.95" fill="#000080"/>
<circle cx="569.9" cy="374.8" r="1.95" fill="#000080"/>
<circle cx="573.7" cy="376.0" r="1.95" fill="#000080"/>
<circle cx="566.1" cy="380.9" r="1.95" fill="#000080"/>
<circle cx="605.4" cy="369.9" r="1.95" fill="#000080"/>
<circle cx="608.4" cy="371.8" r="1.95" fill="#000080"/>
<circle cx="656.2" cy="375.6" r="1.95" fill="#000080"/>
<circle cx="583.1" cy="386.3" r="1.95" fill="#000080"/>
<circle cx="588.4" cy="386.9" r="1.95" fill="#000080"/>
<circle cx="593.7" cy="388.3" r="1.95" fill="#000080"/>
<circle cx="600.2" cy="386.3" r="1.95" fill="#000080"/>
<circle cx="604.8" cy="384.7" r="1.95" fill="#000080"/>
<circle cx="610.7" cy="384.3" r="1.95" fill="#000080"/>
<circle cx="614.7" cy="384.3" r="1.95" fill="#000080"/>
<circle cx="618.6" cy="384.3" r="1.95" fill="#000080"/>
<circle cx="621.9" cy="385.0" r="1.95" fill="#000080"/>
<circle cx="623.2" cy="387.6" r="1.95" fill="#000080"/>
<circle cx="625.8" cy="388.9" r="1.95" fill="#000080"/>
<circle cx="627.8" cy="384.0" r="1.95" fill="#999999"/>
<circle cx="635.7" cy="383.7" r="1.95" fill="#999999"/>
<circle cx="632.8" cy="385.2" r="1.95" fill="#000080"/>
<circle cx="585.8" cy="391.5" r="1.95" fill="#000080"/>
<circle cx="589.7" cy="391.5" r="1.95" fill="#000080"/>
<circle cx="593.0" cy="392.8" r="1.95" fill="#000080"/>
<circle cx="596.3" cy="391.5" r="1.95" fill="#000080"/>
<circle cx="600.2" cy="390.9" r="1.95" fill="#000080"/>
<circle cx="604.2" cy="391.5" r="1.95" fill="#000080"/>
<circle cx="608.1" cy="391.5" r="1.95" fill="#000080"/>
<circle cx="612.0" cy="392.2" r="1.95" fill="#000080"/>
<circle cx="616.0" cy="392.8" r="1.95" fill="#000080"/>
<circle cx="619.9" cy="392.2" r="1.95" fill="#000080"/>
<circle cx="616.6" cy="388.9" r="1.95" fill="#000080"/>
<circle cx="602.2" cy="397.5" r="1.95" fill="#000080"/>
<circle cx="610.1" cy="397.5" r="1.95" fill="#000080"/>
<circle cx="620.6" cy="394.8" r="1.95" fill="#999999"/>
<circle cx="626.5" cy="395.2" r="1.95" fill="#000080"/>
<circle cx="655.4" cy="394.8" r="1.95" fill="#000080"/>
<circle cx="651.5" cy="398.1" r="1.95" fill="#000080"/>
<circle cx="654.1" cy="398.1" r="1.95" fill="#000080"/>
<circle cx="372.4" cy="385.0" r="1.95" fill="#000080"/>
<circle cx="371.2" cy="388.2" r="1.95" fill="#000080"/>
<circle cx="370.2" cy="392.2" r="1.95" fill="#000080"/>
<circle cx="370.6" cy="396.3" r="1.95" fill="#000080"/>
<circle cx="378.9" cy="395.1" r="1.95" fill="#999999"/>
<circle cx="383.3" cy="393.4" r="1.95" fill="#000080"/>
<circle cx="389.8" cy="391.5" r="1.95" fill="#000080"/>
<circle cx="391.3" cy="388.2" r="1.95" fill="#000080"/>
<circle cx="395.7" cy="388.6" r="1.95" fill="#000080"/>
<circle cx="404.1" cy="387.1" r="1.95" fill="#000080"/>
<circle cx="406.6" cy="388.6" r="1.95" fill="#000080"/>
<circle cx="408.8" cy="390.0" r="1.95" fill="#000080"/>
<circle cx="411.7" cy="389.3" r="1.95" fill="#000080"/>
<circle cx="413.4" cy="389.6" r="1.95" fill="#000080"/>
<circle cx="407.3" cy="393.0" r="1.95" fill="#000080"/>
<circle cx="409.5" cy="393.4" r="1.95" fill="#000080"/>
<circle cx="419.3" cy="386.7" r="1.95" fill="#000080"/>
<circle cx="418.7" cy="388.6" r="1.95" fill="#000080"/>
<circle cx="437.6" cy="390.0" r="1.95" fill="#000080"/>
<circle cx="449.5" cy="390.8" r="1.95" fill="#000080"/>
<circle cx="454.6" cy="385.7" r="1.95" fill="#000080"/>
<circle cx="456.8" cy="388.6" r="1.95" fill="#000080"/>
<circle cx="423.3" cy="395.1" r="1.95" fill="#000080"/>
<circle cx="426.2" cy="394.4" r="1.95" fill="#000080"/>
<circle cx="429.2" cy="395.1" r="1.95" fill="#000080"/>
<circle cx="432.1" cy="396.6" r="1.95" fill="#000080"/>
<circle cx="462.4" cy="363.8" r="1.95" fill="#000080"/>
<circle cx="506.1" cy="362.8" r="1.95" fill="#000080"/>
<circle cx="534.9" cy="358.3" r="1.95" fill="#87cefa"/>
<circle cx="532.3" cy="364.6" r="1.95" fill="#000080"/>
<circle cx="536.6" cy="364.6" r="1.95" fill="#000080"/>
<circle cx="538.8" cy="368.2" r="1.95" fill="#999999"/>
<circle cx="502.4" cy="373.3" r="1.95" fill="#000080"/>
<circle cx="522.8" cy="376.9" r="1.95" fill="#000080"/>
<circle cx="527.2" cy="376.2" r="1.95" fill="#000080"/>
<circle cx="529.4" cy="373.3" r="1.95" fill="#000080"/>
<circle cx="533.0" cy="373.0" r="1.95" fill="#000080"/>
<circle cx="537.4" cy="373.0" r="1.95" fill="#000080"/>
<circle cx="501.7" cy="380.9" r="1.95" fill="#000080"/>
<circle cx="506.8" cy="379.9" r="1.95" fill="#000080"/>
<circle cx="509.7" cy="382.8" r="1.95" fill="#000080"/>
<circle cx="514.1" cy="381.3" r="1.95" fill="#000080"/>
<circle cx="516.3" cy="379.1" r="1.95" fill="#000080"/>
<circle cx="528.6" cy="382.8" r="1.95" fill="#000080"/>
<circle cx="531.5" cy="381.3" r="1.95" fill="#000080"/>
<circle cx="534.5" cy="380.6" r="1.95" fill="#000080"/>
<circle cx="537.4" cy="381.3" r="1.95" fill="#000080"/>
<circle cx="533.7" cy="383.5" r="1.95" fill="#000080"/>
<circle cx="532.7" cy="384.7" r="1.95" fill="#999999"/>
<circle cx="483.5" cy="381.7" r="1.95" fill="#000080"/>
<circle cx="487.1" cy="381.7" r="1.95" fill="#000080"/>
<circle cx="489.3" cy="383.2" r="1.95" fill="#000080"/>
<circle cx="485.7" cy="385.0" r="1.95" fill="#000080"/>
<circle cx="485.7" cy="388.2" r="1.95" fill="#000080"/>
<circle cx="473.3" cy="382.0" r="1.95" fill="#000080"/>
<circle cx="473.3" cy="385.2" r="1.95" fill="#000080"/>
<circle cx="466.0" cy="384.2" r="1.95" fill="#000080"/>
<circle cx="465.3" cy="388.2" r="1.95" fill="#000080"/>
<circle cx="455.1" cy="385.7" r="1.95" fill="#000080"/>
<circle cx="456.6" cy="388.6" r="1.95" fill="#000080"/>
<circle cx="460.2" cy="388.6" r="1.95" fill="#000080"/>
<circle cx="473.3" cy="393.0" r="1.95" fill="#00e600"/>
<circle cx="473.3" cy="399.5" r="1.95" fill="#87cefa"/>
<circle cx="473.3" cy="402.1" r="1.95" fill="#87cefa"/>
<circle cx="483.2" cy="393.7" r="1.95" fill="#999999"/>
<circle cx="522.1" cy="390.0" r="1.95" fill="#999999"/>
<circle cx="521.4" cy="393.0" r="1.95" fill="#999999"/>
<circle cx="529.4" cy="388.6" r="1.95" fill="#999999"/>
<circle cx="493.7" cy="387.9" r="1.95" fill="#000080"/>
<circle cx="498.1" cy="388.2" r="1.95" fill="#000080"/>
<circle cx="501.0" cy="388.6" r="1.95" fill="#000080"/>
<circle cx="492.2" cy="391.5" r="1.95" fill="#000080"/>
<circle cx="496.6" cy="392.2" r="1.95" fill="#000080"/>
<circle cx="501.0" cy="392.2" r="1.95" fill="#000080"/>
<circle cx="505.3" cy="390.8" r="1.95" fill="#000080"/>
<circle cx="509.7" cy="390.0" r="1.95" fill="#000080"/>
<circle cx="515.5" cy="392.2" r="1.95" fill="#000080"/>
<circle cx="518.4" cy="393.7" r="1.95" fill="#000080"/>
<circle cx="525.0" cy="386.4" r="1.95" fill="#000080"/>
<circle cx="529.4" cy="392.2" r="1.95" fill="#000080"/>
<circle cx="533.7" cy="392.2" r="1.95" fill="#000080"/>
<circle cx="530.1" cy="396.6" r="1.95" fill="#000080"/>
<circle cx="525.7" cy="395.1" r="1.95" fill="#000080"/>
<circle cx="522.8" cy="398.1" r="1.95" fill="#000080"/>
<circle cx="526.5" cy="404.6" r="1.95" fill="#000080"/>
<circle cx="530.1" cy="404.6" r="1.95" fill="#000080"/>
<circle cx="536.6" cy="406.8" r="1.95" fill="#000080"/>
<circle cx="538.8" cy="403.2" r="1.95" fill="#999999"/>
<circle cx="523.1" cy="376.9" r="1.95" fill="#000080"/>
<circle cx="527.7" cy="374.6" r="1.95" fill="#000080"/>
<circle cx="530.2" cy="372.9" r="1.95" fill="#000080"/>
<circle cx="533.3" cy="372.9" r="1.95" fill="#000080"/>
<circle cx="537.9" cy="372.9" r="1.95" fill="#000080"/>
<circle cx="544.5" cy="372.6" r="1.95" fill="#000080"/>
<circle cx="550.1" cy="374.1" r="1.95" fill="#000080"/>
<circle cx="552.7" cy="370.0" r="1.95" fill="#000080"/>
<circle cx="559.9" cy="370.5" r="1.95" fill="#000080"/>
<circle cx="566.5" cy="371.5" r="1.95" fill="#000080"/>
<circle cx="569.0" cy="370.0" r="1.95" fill="#000080"/>
<circle cx="580.3" cy="370.5" r="1.95" fill="#000080"/>
<circle cx="570.1" cy="375.1" r="1.95" fill="#000080"/>
<circle cx="573.6" cy="375.6" r="1.95" fill="#000080"/>
<circle cx="579.3" cy="376.3" r="1.95" fill="#000080"/>
<circle cx="527.7" cy="382.8" r="1.95" fill="#000080"/>
<circle cx="530.2" cy="383.3" r="1.95" fill="#000080"/>
<circle cx="532.8" cy="380.7" r="1.95" fill="#000080"/>
<circle cx="535.3" cy="381.0" r="1.95" fill="#000080"/>
<circle cx="537.4" cy="382.1" r="1.95" fill="#000080"/>
<circle cx="540.4" cy="381.8" r="1.95" fill="#000080"/>
<circle cx="543.0" cy="380.2" r="1.95" fill="#000080"/>
<circle cx="543.7" cy="378.7" r="1.95" fill="#000080"/>
<circle cx="550.1" cy="379.7" r="1.95" fill="#000080"/>
<circle cx="566.5" cy="380.7" r="1.95" fill="#000080"/>
<circle cx="532.8" cy="385.1" r="1.95" fill="#999999"/>
<circle cx="529.2" cy="388.9" r="1.95" fill="#999999"/>
<circle cx="522.9" cy="389.9" r="1.95" fill="#999999"/>
<circle cx="521.0" cy="393.0" r="1.95" fill="#999999"/>
<circle cx="525.1" cy="386.3" r="1.95" fill="#000080"/>
<circle cx="529.2" cy="392.0" r="1.95" fill="#000080"/>
<circle cx="533.3" cy="392.0" r="1.95" fill="#000080"/>
<circle cx="543.5" cy="386.3" r="1.95" fill="#000080"/>
<circle cx="545.5" cy="388.4" r="1.95" fill="#000080"/>
<circle cx="525.1" cy="395.0" r="1.95" fill="#000080"/>
<circle cx="527.2" cy="395.0" r="1.95" fill="#000080"/>
<circle cx="530.2" cy="396.6" r="1.95" fill="#000080"/>
<circle cx="520.0" cy="397.6" r="1.95" fill="#000080"/>
<circle cx="522.0" cy="399.6" r="1.95" fill="#000080"/>
<circle cx="543.5" cy="396.1" r="1.95" fill="#000080"/>
<circle cx="546.6" cy="395.5" r="1.95" fill="#000080"/>
<circle cx="545.0" cy="397.6" r="1.95" fill="#000080"/>
<circle cx="526.6" cy="404.7" r="1.95" fill="#000080"/>
<circle cx="530.2" cy="403.7" r="1.95" fill="#000080"/>
<circle cx="538.9" cy="403.2" r="1.95" fill="#999999"/>
<circle cx="536.9" cy="406.3" r="1.95" fill="#000080"/>
<circle cx="543.0" cy="405.3" r="1.95" fill="#000080"/>
<circle cx="543.5" cy="402.7" r="1.95" fill="#000080"/>
<circle cx="546.1" cy="402.7" r="1.95" fill="#000080"/>
<circle cx="548.6" cy="403.7" r="1.95" fill="#000080"/>
<circle cx="549.1" cy="407.3" r="1.95" fill="#000080"/>
<circle cx="574.7" cy="389.9" r="1.95" fill="#000080"/>
<circle cx="556.3" cy="398.6" r="1.95" fill="#000080"/>
<circle cx="557.3" cy="401.2" r="1.95" fill="#000080"/>
<circle cx="561.4" cy="397.1" r="1.95" fill="#000080"/>
<circle cx="561.9" cy="401.7" r="1.95" fill="#000080"/>
<circle cx="583.4" cy="386.3" r="1.95" fill="#000080"/>
<circle cx="588.0" cy="386.3" r="1.95" fill="#000080"/>
<circle cx="585.4" cy="391.5" r="1.95" fill="#000080"/>
<circle cx="588.0" cy="390.9" r="1.95" fill="#000080"/>
</g>
<text x="513" y="264.8" text-anchor="middle" style="font-size:6px;fill:#111;stroke:#111;stroke-width:0.1px">rs2058019</text>
<line x1="369.1" y1="231.7" x2="657.3" y2="231.7" stroke="#dedede" stroke-width="1"/>
<line x1="369.1" y1="231.7" x2="369.1" y2="416" stroke="#b0b0b0" stroke-width="0.9"/>
<line x1="369.1" y1="416" x2="657.3" y2="416" stroke="#bcbcbc" stroke-width="0.9"/>
<line x1="657.3" y1="231.7" x2="657.3" y2="416" stroke="#c4c4c4" stroke-width="0.9"/>
<line x1="365.1" y1="408.2" x2="369.1" y2="408.2" stroke="#999" stroke-width="0.8"/>
<text x="362.1" y="410.4" text-anchor="end" class="t">0</text>
<line x1="365.1" y1="374.64" x2="369.1" y2="374.64" stroke="#999" stroke-width="0.8"/>
<text x="362.1" y="376.84" text-anchor="end" class="t">2</text>
<line x1="365.1" y1="341.08" x2="369.1" y2="341.08" stroke="#999" stroke-width="0.8"/>
<text x="362.1" y="343.28" text-anchor="end" class="t">4</text>
<line x1="365.1" y1="307.52" x2="369.1" y2="307.52" stroke="#999" stroke-width="0.8"/>
<text x="362.1" y="309.72" text-anchor="end" class="t">6</text>
<line x1="365.1" y1="273.96" x2="369.1" y2="273.96" stroke="#999" stroke-width="0.8"/>
<text x="362.1" y="276.16" text-anchor="end" class="t">8</text>
<line x1="365.1" y1="240.4" x2="369.1" y2="240.4" stroke="#999" stroke-width="0.8"/>
<text x="362.1" y="242.6" text-anchor="end" class="t">10</text>
<line x1="657.7" y1="408.2" x2="657.7" y2="240.4" stroke="#bcbcf0" stroke-width="1"/>
<line x1="657.3" y1="408.2" x2="661.3" y2="408.2" stroke="#88f" stroke-width="0.8"/>
<text x="664.8" y="410" class="tb">0</text>
<line x1="657.3" y1="374.64" x2="661.3" y2="374.64" stroke="#88f" stroke-width="0.8"/>
<text x="664.8" y="376.44" class="tb">20</text>
<line x1="657.3" y1="341.08" x2="661.3" y2="341.08" stroke="#88f" stroke-width="0.8"/>
<text x="664.8" y="342.88" class="tb">40</text>
<line x1="657.3" y1="307.52" x2="661.3" y2="307.52" stroke="#88f" stroke-width="0.8"/>
<text x="664.8" y="309.32" class="tb">60</text>
<line x1="657.3" y1="273.96" x2="661.3" y2="273.96" stroke="#88f" stroke-width="0.8"/>
<text x="664.8" y="275.76" class="tb">80</text>
<line x1="657.3" y1="240.4" x2="661.3" y2="240.4" stroke="#88f" stroke-width="0.8"/>
<text x="664.8" y="242.2" class="tb">100</text>
<text transform="translate(347.9,323.85) rotate(-90)" text-anchor="middle" class="t" style="font-size:6.0px">− log<tspan style="font-size:4.3px" dy="1.3">10</tspan><tspan dy="-1.3">(p−value)</tspan></text>
<text transform="translate(676.7,324.75) rotate(90)" text-anchor="middle" class="tb" style="font-size:6.0px;stroke-width:0">Recombination rate (cM/Mb)</text>
<rect x="369.1" y="423.5" width="288.2" height="11.8" fill="none" stroke="#ccc" stroke-width="0.9"/>
<line x1="421.8" y1="435.3" x2="637.8" y2="435.3" stroke="#8a8a8a" stroke-width="0.8"/>
<line x1="421.8" y1="435.3" x2="421.8" y2="438.9" stroke="#999" stroke-width="0.8"/>
<text x="421.8" y="448.8" text-anchor="middle" class="t">42.1</text>
<line x1="493.8" y1="435.3" x2="493.8" y2="438.9" stroke="#999" stroke-width="0.8"/>
<text x="493.8" y="448.8" text-anchor="middle" class="t">42.2</text>
<line x1="565.8" y1="435.3" x2="565.8" y2="438.9" stroke="#999" stroke-width="0.8"/>
<text x="565.8" y="448.8" text-anchor="middle" class="t">42.3</text>
<line x1="637.8" y1="435.3" x2="637.8" y2="438.9" stroke="#999" stroke-width="0.8"/>
<text x="637.8" y="448.8" text-anchor="middle" class="t">42.4</text>
<text x="513.2" y="457" text-anchor="middle" class="t" style="font-size:6.0px">Position on chr7 (Mb)</text>
<line x1="369.1" y1="432" x2="549.38" y2="432" stroke="#7575d8" stroke-width="0.8"/>
<rect x="395.58" y="430.9" width="1.6" height="2.2" fill="#3535b0"/>
<rect x="406.86" y="430.9" width="0.8" height="2.2" fill="#3535b0"/>
<rect x="410.31" y="430.9" width="0.8" height="2.2" fill="#3535b0"/>
<rect x="412.54" y="430.9" width="0.8" height="2.2" fill="#3535b0"/>
<rect x="433.5" y="430.9" width="0.8" height="2.2" fill="#3535b0"/>
<rect x="485.05" y="430.9" width="0.8" height="2.2" fill="#3535b0"/>
<rect x="538.69" y="430.9" width="0.8" height="2.2" fill="#3535b0"/>
<rect x="548.98" y="430.9" width="0.8" height="2.2" fill="#3535b0"/>
<path d="M440.3,427.6L442.5,426.5L442.5,428.7Z" fill="#222"/><line x1="442.3" y1="427.6" x2="445.9" y2="427.6" stroke="#333" stroke-width="0.6"/>
<text x="446.5" y="429.65" font-style="italic" textLength="10.9" lengthAdjust="spacingAndGlyphs" style="font-size:5.7px;fill:#222">GLI3</text>
<rect x="630.3" y="234.7" width="23.6" height="57" fill="#fff" stroke="#999" stroke-width="0.8"/>
<rect x="633.7" y="244.8" width="5.8" height="8.85" fill="#ff0000"/>
<rect x="633.7" y="253.65" width="5.8" height="8.85" fill="#ffa500"/>
<rect x="633.7" y="262.5" width="5.8" height="8.85" fill="#00ee00"/>
<rect x="633.7" y="271.35" width="5.8" height="8.85" fill="#87cefa"/>
<rect x="633.7" y="280.2" width="5.8" height="8.85" fill="#000080"/>
<line x1="639.5" y1="253.65" x2="642.3" y2="253.65" stroke="#777" stroke-width="0.6"/>
<text x="644.1" y="256.15" class="ts">0.8</text>
<line x1="639.5" y1="262.5" x2="642.3" y2="262.5" stroke="#777" stroke-width="0.6"/>
<text x="644.1" y="265" class="ts">0.6</text>
<line x1="639.5" y1="271.35" x2="642.3" y2="271.35" stroke="#777" stroke-width="0.6"/>
<text x="644.1" y="273.85" class="ts">0.4</text>
<line x1="639.5" y1="280.2" x2="642.3" y2="280.2" stroke="#777" stroke-width="0.6"/>
<text x="644.1" y="282.7" class="ts">0.2</text>
<text x="640.3" y="242.9" style="font-size:7px;fill:#222">r<tspan style="font-size:4.6px" dy="-2.8">2</tspan></text>
<text x="391.1" y="244" text-anchor="middle" class="L" style="font-size:13.2px">d</text>
</svg></body></html>
